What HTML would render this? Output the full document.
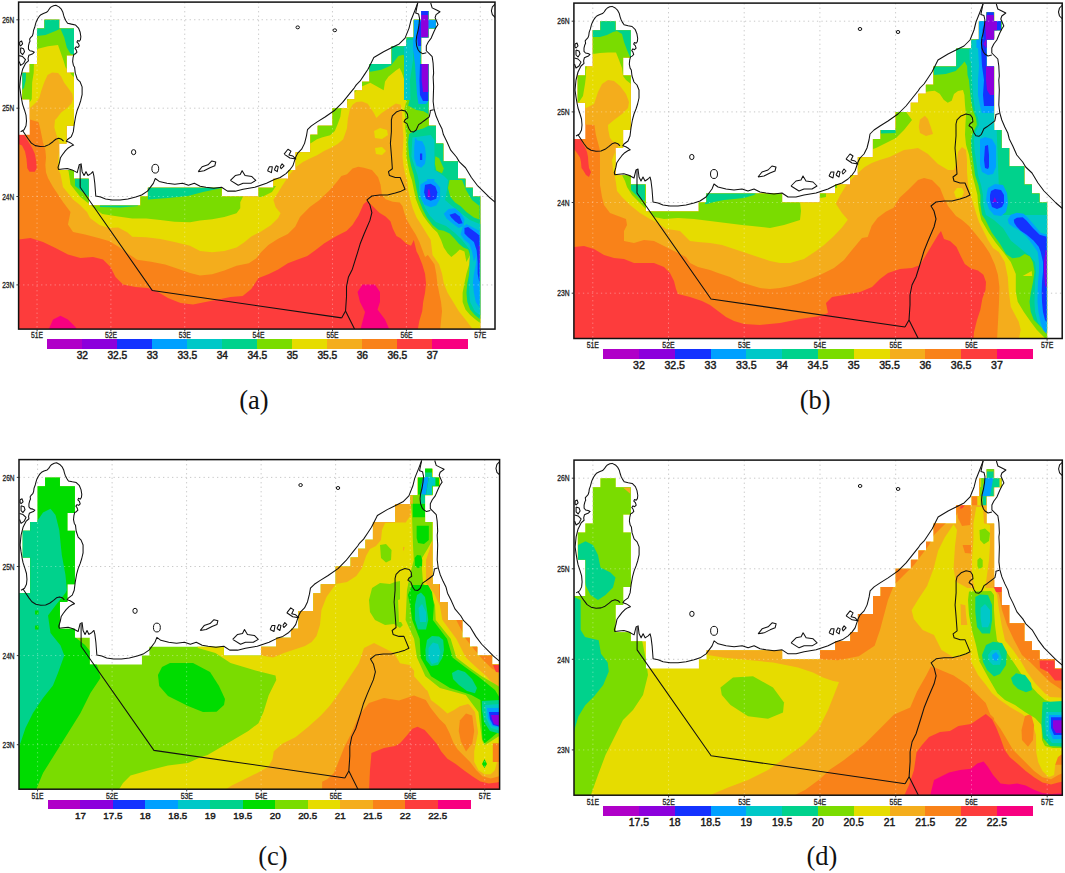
<!DOCTYPE html><html><head><meta charset="utf-8"><style>html,body{margin:0;padding:0;background:#fff;}body{width:1065px;height:873px;overflow:hidden;}svg{display:block;}text{font-family:"Liberation Sans",sans-serif;}</style></head><body>
<svg width="1065" height="873" viewBox="0 0 1065 873">
<rect width="1065" height="873" fill="#fff"/>
<svg x="18.6" y="2.1" width="476.4" height="327.0" viewBox="0 0 488.3 335.4" preserveAspectRatio="none">
<defs><clipPath id="ma"><polygon points="473.2,344.5 -11.4,344.5 -11.4,136 11.4,136 11.4,99.7 3.8,99.7 3.8,72.5 11.4,72.5 11.4,63.5 18.9,63.5 18.9,27.2 26.5,27.2 26.5,18.1 41.6,18.1 41.6,27.2 56.8,27.2 56.8,54.4 49.2,54.4 49.2,72.5 56.8,72.5 56.8,126.9 49.2,126.9 49.2,145 41.6,145 41.6,172.2 56.8,172.2 56.8,181.3 71.9,181.3 71.9,208.5 124.9,208.5 124.9,199.4 132.5,199.4 132.5,190.4 208.2,190.4 208.2,199.4 246,199.4 246,190.4 261.2,190.4 261.2,181.3 276.3,181.3 276.3,172.2 283.9,172.2 283.9,154.1 299,154.1 299,136 306.6,136 306.6,126.9 321.7,126.9 321.7,108.8 336.9,108.8 336.9,99.7 344.5,99.7 344.5,90.6 352,90.6 352,81.6 359.6,81.6 359.6,63.5 382.3,63.5 382.3,45.3 397.5,45.3 397.5,36.3 405,36.3 405,18.1 412.6,18.1 412.6,9.1 420.2,9.1 420.2,18.1 427.7,18.1 427.7,27.2 420.2,27.2 420.2,36.3 412.6,36.3 412.6,63.5 420.2,63.5 420.2,126.9 427.7,126.9 427.7,145 435.3,145 435.3,163.2 450.4,163.2 450.4,181.3 458,181.3 458,190.4 465.6,190.4 465.6,199.4 473.2,199.4"/></clipPath></defs>
<path d="M18.9 0V335.4M94.6 0V335.4M170.3 0V335.4M246 0V335.4M321.7 0V335.4M397.5 0V335.4M473.2 0V335.4M0 290.1H488.3M0 199.4H488.3M0 108.8H488.3M0 18.1H488.3" stroke="#c8c8c8" stroke-width="1" stroke-dasharray="1.3 3.2" fill="none" vector-effect="non-scaling-stroke"/>
<g clip-path="url(#ma)"><rect x="-5" y="-5" width="498.3" height="345.4" fill="#f98219"/>
<polygon points="0,120.9 11.6,120.3 16.6,121.9 20.4,123 21.9,128.6 23.5,136.3 25,144 27.4,151.7 28.1,159.5 27.4,167.2 28.1,174.9 30.1,180.4 35.3,189.6 45.5,205 53.2,215.3 50.6,228.1 55.8,235.8 68.1,238.4 82.8,242.2 92.5,245 102.1,250.8 111.7,257.6 121.4,264.3 135.7,266.3 150.2,269.1 164.6,274 175.7,277.8 185.9,280.4 198.4,279.1 210.9,275.4 223.4,270.4 236,267.9 243.5,262.9 248.5,256.6 256,249.1 266,242.8 276,237.9 283.5,230.3 288.4,220.4 298.5,210.2 308.4,203 318.5,193.2 325.9,184.7 330.9,178.4 336.6,176.5 342.3,170.7 348.2,168.8 353.9,169.8 360.2,171.7 362.2,172.2 368.5,179.7 371,187.3 372.3,197.2 376.1,202.3 383.5,204.7 390.6,205.5 393.5,209.4 395.4,216.2 398.3,223.9 402.2,230.7 407,238.4 410.8,246.1 413.7,253.8 416.6,261.4 419.5,259.4 426.2,269 428.1,278.7 429.2,288.3 431,298 433,307.6 434,317.1 433,326.8 432,337.3 493.4,337.3 493.4,-2.2 0,-2.2" fill="#f4ad1c"/>
<polygon points="0,108.6 11.6,108.7 14.2,106.4 18.1,102.6 21.2,98 23.5,90.2 26.5,81.7 29.7,74.8 34.3,72.1 40.5,72.8 43.6,76.3 46.6,82.5 51.2,88.6 55,94.1 55.9,99.5 54.3,104.1 49.7,108.7 43.6,113.3 38.9,119.5 37.3,120.9 36.6,128.6 38.9,136.3 40.5,140.2 42.4,146.6 40.4,162 40.5,171.8 42.9,176.3 45.5,189.6 55.8,202.5 62.9,208.1 70.1,215.3 73.2,221.4 82.8,228.6 92.5,231.6 102.1,231.1 111.7,236.4 116.5,240.7 130.9,241.2 145.3,243.1 159.8,246.1 175.7,249.9 185.9,255.3 198.4,256.6 210.9,255.3 223.4,251.6 231,246.6 238.5,240.3 248.5,235.3 258.5,229 266,221.5 268.5,216.5 263.5,210.3 261.1,202.8 266,195.2 270,188.6 278.2,176.3 284.6,168.8 291.4,164 299.1,160.1 305.9,157.2 313.5,152.4 320.2,149.5 327,145.6 332.7,140.8 334.7,135.1 336.6,129.3 337.5,119.7 339.5,110.1 342.3,105.2 346.2,102.4 352,101.9 357.8,104.3 362.2,110.7 364.3,114.1 366.7,119 371.8,114.1 379.2,109 386.7,104 391.7,105.2 393,112.7 393.5,126.1 394.5,139 393.5,158.2 394.5,167.8 396.4,177.4 398.3,182.5 399.2,192.1 401.2,201.8 404,211.4 407.9,221 412.8,228.7 417.6,236.4 422.4,244.1 424.3,259.4 431,269 434,278.7 435.8,288.3 439.7,298 445.5,307.6 451.2,317.1 459,326.8 464.7,334.5 466.8,337.3 493.4,337.3 493.4,-2.2 0,-2.2" fill="#e6dc00"/>
<polygon points="364.3,132.2 370.4,129.1 377.6,131.2 378.6,136.3 372.5,140.4 365.3,139.4" fill="#e6dc00"/>
<polygon points="365.3,149.6 372.5,148.6 376.6,152.7 372.5,156.8 366.3,155.8" fill="#e6dc00"/>
<polygon points="0,-2.2 62.9,-2.2 62.9,77.8 57.1,77.3 54.5,74.8 50.6,69.6 48.2,67.1 45.8,59.4 40.4,44 30.1,45.3 19.9,47.9 15.8,54.3 15.8,59.4 15.5,72.5 13.9,82.5 13.5,99.4 11.6,102.5 0,102.5" fill="#7adc00"/>
<polygon points="44.5,167.1 51.2,173.2 53.2,187.1 63.4,199.9 76.3,210.2 85.7,217.3 102.1,220 116.5,222 130.9,222 145.3,223.4 159.8,225.3 175.7,225.8 185.9,224 198.4,222.8 210.9,220.3 223.4,216.5 227.2,211.5 227.2,205.2 229.7,200.2 231,195.2 233.5,192.7 235.1,182.5 44.5,162" fill="#7adc00"/>
<polygon points="245.4,188.6 263.8,188.6 259.7,194.8 249.5,199.9 245.4,199.9" fill="#7adc00"/>
<polygon points="288.4,144.7 299.5,144.7 305.8,140.8 311.6,138.5 319.3,136.5 324.1,132.2 327,125.4 329.8,117.7 330.9,109.1 337.6,100.4 344.2,92.7 351.7,86.5 360.5,82.7 369.2,87.7 374.2,90.3 375.6,81.4 379.2,76.4 386.7,70.2 390.5,67.7 393,72.7 395.5,80.2 396.8,88.9 398,99 395.4,110.1 396.4,119.7 396.4,129.3 397.4,139 397.4,148.6 397.4,158.2 399.2,167.8 401.2,177.4 403.1,182.5 405.1,192.1 407,201.8 410.8,211.4 414.7,219.1 419.5,225.9 424.3,231.6 429.2,236.4 433,244.1 435.8,251.8 439.7,257.6 443.5,261.4 448.3,257.6 452.2,253.8 457,255.7 459,266.6 462.8,259.4 461.9,269 459,278.7 457,288.3 455.1,298 455.1,307.6 458,315.3 462.8,321 468.6,325.9 472.4,328.7 493.4,337.3 493.4,-2.2 288.4,-2.2" fill="#7adc00"/>
<polygon points="0,-2.2 62.9,-2.2 62.9,54.3 57.1,54.3 53.2,53 49.4,46.6 46.8,36.3 42.9,27.4 37.8,29.6 27.6,33.7 18.7,34.8 0,34.8" fill="#00d28c"/>
<polygon points="3.5,71.7 7.6,71.7 7.4,79.9 5.5,88.1 3.5,90.2" fill="#00d28c"/>
<polygon points="57.8,180.4 72.2,180.4 72.2,199.9 62.9,192.7 57.8,188.6" fill="#00d28c"/>
<polygon points="132.6,188.6 208.5,188.6 208.3,190.7 189,194.8 173.6,198.9 153.1,200.9 132.6,202.5" fill="#00d28c"/>
<polygon points="83.4,206.1 122.4,206.1 122.4,209.1 103.9,210.7 83.4,210.2" fill="#00d28c"/>
<polygon points="288.4,-2.2 288.4,59.4 360.5,71.4 371.8,69.5 381.7,65.1 389.3,55.2 394.3,54 396.8,57.6 398,63.9 399.2,76.4 399.9,88.9 400.6,101.4 399.2,106.2 407.9,111 414.7,112 419.5,114.9 421.4,119.7 420.4,126.5 414.7,129.3 405.1,132.2 400.3,135.1 399.2,143.8 400.3,158.2 402.2,167.8 405.1,177.4 406,182.5 407.9,192.1 409.9,201.8 413.7,211.4 418.5,221 424.3,228.7 430.1,233.5 435.8,234.5 441.7,237.3 446.5,242.2 451.2,247.9 456,251.8 460.8,253.8 462.8,259.5 465.6,259.4 464.7,269 461.9,278.7 459.9,288.3 459,298 459.9,307.6 462.8,315.3 467.6,321 472.4,324.8 493.4,326.1 493.4,-2.2" fill="#00d28c"/>
<polygon points="398.3,100.4 399.2,106.2 407.9,111 414.7,112 419.5,114.9 421.4,119.7 420.4,126.5 414.7,129.3 405.1,132.2 400.3,135.1 397.1,134.3 397.1,100.4" fill="#7adc00"/>
<polygon points="427.2,158.2 431,160.1 435.8,170.7 434,175.5 428.1,172.6 426.7,165.9" fill="#7adc00"/>
<polygon points="441.7,182.5 454.5,182.5 458.6,192.7 464.7,203 472.4,209.1 472.4,222.9 466.7,221 459,215.2 453.1,209.4 447.4,205.5 442.6,199.8 440.1,190.7" fill="#7adc00"/>
<polygon points="397.1,38.9 404.3,38.9 404.3,59.4 401.2,79.9 401.7,100.4 395,100.4 395,38.9" fill="#00c8c8"/>
<polygon points="403.6,139 402.6,158.2 405.3,167.1 408.9,177.4 410.4,184.5 410.4,192.7 412.5,200.9 416.6,211.2 421.7,219.4 427.8,225.5 438.1,229.7 447.3,236.8 454.5,244 462.7,254.3 461.9,278.7 461.9,288.3 461.9,298 462.8,307.6 467.6,317.1 472.4,321 493.4,322 493.4,227.6 472.4,227.6 462.7,223.5 454.5,217.3 444.2,209.1 437.1,203 439.1,192.7 440.1,182.5 436,178.4 426.2,172.2 426.2,141.4 422.4,136.3" fill="#00c8c8"/>
<polygon points="405,18.2 412.5,18.2 412.5,9 420.1,9 420.1,18.2 427.7,18.2 427.7,27.2 420.1,27.2 420.1,45 412.5,45 411.4,63.5 420.1,63.5 420.1,101.4 417.6,104.5 409.9,104.5 408.4,95.3 407.3,79.9 406.3,63.5 404.3,49.1 404.3,36.2 405,27.2" fill="#00a0ff"/>
<polygon points="409.4,27.2 412.5,18.2 412.5,9 420.1,9 420.1,13.2 412.5,13.2 412.5,45 409.4,45 408.4,36.2" fill="#1432ff"/>
<polygon points="411.4,63.5 420.1,63.5 420.1,101.4 414.5,101.4 411.4,95.3 410.9,79.9" fill="#1432ff"/>
<polygon points="412.5,13.2 420.1,13.2 420.1,27.2 420.1,36.2 412.5,36.2" fill="#8c00dc"/>
<polygon points="413.1,63.5 420.1,63.5 420.1,92.2 414.5,92.2 413.1,79.9" fill="#8c00dc"/>
<polygon points="406.5,139 408.9,141.9 413.7,142.8 416.6,148.6 417.6,158.2 416.6,165.9 412.8,169.8 407.9,167.8 405.5,160.1 405.5,148.6" fill="#00a0ff"/>
<polygon points="411.4,155.3 413.7,155.3 413.7,162 411.4,162" fill="#1432ff"/>
<polygon points="418.6,181.4 426.2,181.4 426.2,184.5 418.6,184.5" fill="#00a0ff"/>
<polygon points="411.8,187.3 417.6,183.5 427.2,184.4 432,190.2 432,201.8 428.1,208.5 422.4,210.4 415.6,207.5 411.8,199.8" fill="#00a0ff"/>
<polygon points="416.6,187.3 422.4,186.4 427.2,189.2 429.2,195 428.1,201.8 422.4,203.7 417.6,201.8 415.6,195" fill="#1432ff"/>
<polygon points="419.6,192.1 421.3,192.1 422.2,199.8 419.1,199.8" fill="#8c00dc"/>
<polygon points="435.8,217.1 440.6,212.3 447.4,211.4 453.1,216.2 457,222.9 456,229.7 451.2,231.6 445.5,227.7 438.7,222" fill="#00a0ff"/>
<polygon points="441.7,218.1 447.4,216.2 452.2,220 455.1,226.8 451.2,227.7 447.4,224.8 443.5,221" fill="#1432ff"/>
<polygon points="455.1,230.7 459,227.7 466.7,231.6 472.4,234.5 472.4,313.3 468.6,307.6 466.7,298 465.6,288.3 466.7,278.7 468.6,269 469.5,259.4 466.7,266.6 464.7,255.7 461.9,247.9 457,244.1 453.1,238.4" fill="#00a0ff"/>
<polygon points="457,231.6 460.8,230.7 468.6,236.4 472.4,239.3 472.4,288.3 470.5,278.7 470.5,266.6 469.5,254.7 466.7,246.1 460.8,241.2 457,237.3" fill="#1432ff"/>
<polygon points="471.5,249.9 472.4,249.9 472.4,269 471.9,266.6" fill="#8c00dc"/>
<polygon points="0,243.5 12.2,242 25,246.1 37.8,252.2 50.6,258.9 63.4,262.5 76.3,261.4 86.5,264 94.2,271.7 99.3,282 107,289.7 119.8,292.2 132.6,293.2 142.9,297.3 153.1,303.5 165.9,308.6 178.8,310.2 191.6,307.6 204.4,305 217.2,302.5 229.7,301.4 238.5,294.2 246,282.9 256,279.1 266,274.2 276,267.9 286.1,264.1 296,260.3 304.8,254.1 313.4,247.4 325.9,239.8 336,234.8 342.2,228.5 348.5,218.6 353.5,207.3 357.3,204.1 363.6,209.8 369.8,216 376.1,219.8 381.1,224.8 383.5,232.3 387.3,239.9 391.5,242.2 397.4,247.9 402.2,249.9 405.1,244.1 407.9,255.7 409.9,259.4 413.7,269 416.6,278.7 417.6,288.3 416.6,298 414.7,307.6 413.7,317.1 410.8,326.8 408.9,337.3 0,337.3" fill="#fd3c3c"/>
<polygon points="0,136.3 5.8,136.3 10.5,144 14.2,150.2 16.6,155.6 18.1,163.3 18.6,170.3 16.6,174.1 11.2,174.1 8.9,170.3 8.1,161 6.6,153.3 3.5,147.1 0,145.5" fill="#fd3c3c"/>
<polygon points="30.1,337.3 35.3,325.6 42.9,321.8 50.6,325.6 58.3,333.2 60.9,337.3" fill="#f80080"/>
<polygon points="347.4,297.3 352.5,289.7 365.3,289.7 370.4,297.3 370.4,307.6 367.9,315.3 375.6,325.6 380.7,337.3 349.9,337.3 355.1,317.9 349.9,307.6" fill="#f80080"/>
<path d="M18.9 0V335.4M94.6 0V335.4M170.3 0V335.4M246 0V335.4M321.7 0V335.4M397.5 0V335.4M473.2 0V335.4M0 290.1H488.3M0 199.4H488.3M0 108.8H488.3M0 18.1H488.3" stroke="#fff" stroke-opacity="0.35" stroke-width="1" stroke-dasharray="1.3 3.2" fill="none" vector-effect="non-scaling-stroke"/>
</g>
<polyline points="2.1,132.9 5.6,130.9 7.6,126.9 8.1,121.9 7.6,115.9 6.1,110.9 4.1,104.9 3.1,99.9 2.1,93.9 1.1,86.9 2.1,76.9 4.1,68.9 7.1,62.9 10.1,60.2 9.7,57.8 10.5,54.6 12.1,53.9 14.6,52.9 16.1,51.4 14.1,50.4 11.6,49.9 10.1,48.2 10.1,45 10.9,41.8 11.7,40.2 11.3,37.8 12.5,36.2 14.1,34.6 14.9,32.2 15.3,29 16.5,25.8 17.3,22.6 18.1,20.1 19.7,16.9 21.3,14.5 22.9,12.9 25.4,11.7 28.6,10.5 30.2,8.9 31.8,6.5 33.4,4.9 35.8,3.7 38.2,3.3 41.4,4.9 43.8,7.3 45.4,10.5 46.2,13.7 47,16.1 48.6,19.3 50.2,21.7 54.2,22.6 58.2,23.4 61.4,26.6 63,30.6 63.8,35.4 63.4,38.6 62.2,40.2 60.6,39.4 59.8,41 61.4,42.6 62.2,45 60.6,46.6 59,45.8 57.8,47.4 59,49 59.8,51.4 58.2,53 56.6,53.8 55.8,57 55.4,61 56.2,65 57.4,66.9 58.1,72.9 60.1,78.9 63.1,81.9 65.1,86.9 65.1,94.9 63.7,100.9 62.1,105.9 60.1,110.9 58.5,116.9 57.1,124.9 56.1,132.9 54.1,137.9 50.1,140.9 48.9,142.7 51.9,143.7 54.4,145.2 56.4,146.7 53.9,147.7 50.9,149.6 47.9,152.6 44.9,156.6 42.9,159.6 41.9,164.6 40.4,169.6 40.9,171.6 44.9,171.1 49.9,170.6 54.9,172.1 60.1,174.9 62.1,166.9 64.1,165.9 65.1,173.9 67.1,177.9 69.1,173.9 71.1,177.9 74.1,175.9 76.1,173.9 77.1,177.9 78.1,185.9 79.1,198.9 84.1,199.9 89.1,201.9 96.1,202.9 104.1,202.9 112.1,201.9 120.1,199.9 126.1,197.9 132.1,193.9 138.1,185.9 140.1,180.9 144.1,183.9 152.1,185.9 160.1,186.9 168.1,185.9 174.1,187.9 180.1,185.9 186.1,188.9 192.1,189.9 200.1,190.9 208.1,189.9 214.1,193.9 222.1,193.9 230.1,191.9 236.1,190.9 242.1,189.9 248.1,187.9 254.1,185.9 262.1,181.9 268.1,179.9 274.1,175.9 278.1,171.9 281.1,167.9 283.1,161.9 284.1,158.9 286.1,154.9 290.1,150.9 293.1,144.9 295.1,136.9 296.1,130.9 300.1,126.9 306.1,122.9 314.1,117.9 324.1,110.9 332.1,102.9 340.1,92.9 344.1,87.9 346.1,84.9 350.1,80.9 354.1,74.9 358.1,68.9 362.1,60.9 364.1,56.9 374.1,50.9 382.1,46.9 390.1,42.9 396.1,36.9 400.1,26.9 402.1,18.9 406.1,8.9 409.1,0.9" fill="none" stroke="#111" stroke-width="1.05" stroke-linejoin="round" vector-effect="non-scaling-stroke"/>
<polyline points="422.4,0.9 423.9,5.9 427.9,7.9 431.9,9.9 427.9,12.9 426.9,15.9 429.9,22.9 427.9,25.9 425.9,29.9 422.9,36.9 419.9,40.9 417.9,44.9 417.9,49.9 420.9,52.9 423.9,55.9 424.9,62.9 425.4,72.9 424.9,76.9 425.4,86.9 424.9,101.9 425.9,109.9 427.9,116.9 430.9,123.9 433.9,129.9 435.4,135.9 438.9,142.9 442.9,151.9 448.8,158.9 451.8,163.9 458.1,169.9 464.1,179.9 470.1,187.9 476.1,193.9 482.1,199.9 489.1,205.9" fill="none" stroke="#111" stroke-width="1.05" stroke-linejoin="round" vector-effect="non-scaling-stroke"/>
<polyline points="409.1,0.9 407,11.3 410,12.3 411,16.9 410.5,22.9 409.5,28.9 408,34.9 407.5,39.9 408,44.9 409.5,48.9 411,50.9 414,52.9 417.9,51.9" fill="none" stroke="#111" stroke-width="1.05" stroke-linejoin="round" vector-effect="non-scaling-stroke"/>
<polyline points="4.1,131.7 6.1,134.7 10.1,140.7 13.1,144.7 17.1,147.2 22.1,148.2 27.1,147.9 31.1,146.2 35.1,143.2 38.1,140.7 41.1,139.7 44.1,140.7 46.1,142.7" fill="none" stroke="#111" stroke-width="1.05" stroke-linejoin="round" vector-effect="non-scaling-stroke"/>
<polyline points="425.4,110.3 421.9,111.3 421.9,112.8 420.9,117.7 417,120.7 413,123.7 410,125.7 407.5,131.2 405,133.2 402,132.7 400,129.7 398.1,124.7 395.1,122.7 396.1,120.7 399,118.7 398.5,114.7 396.5,111.8 392.1,110.8 387.1,112.8 383.1,116.7 382.1,120.9 382.1,132.9 381.1,144.9 382.1,156.9 383.1,170.9 379.1,173.9 380.1,177.9 386.1,179.9 391.1,179.9 396.1,191.9 392.1,193.9 386.1,195.9 378.1,197.9 370.1,197.9 362.1,198.9 357.1,202.9 360.1,207.9 362.1,215.9 360.1,223.9 354.1,237.9 350.1,247.9 347.1,257.9 342.1,273.9 338.1,281.9 336.1,291.9 336.1,301.9 335.1,316.9 331.1,323.9" fill="none" stroke="#111" stroke-width="1.05" stroke-linejoin="round" vector-effect="non-scaling-stroke"/>
<polyline points="331.1,323.9 137.1,295.9 63.1,189.9 63.1,166.9" fill="none" stroke="#111" stroke-width="1.05" stroke-linejoin="round" vector-effect="non-scaling-stroke"/>
<polyline points="335.1,316.9 345.1,336.9" fill="none" stroke="#111" stroke-width="1.05" stroke-linejoin="round" vector-effect="non-scaling-stroke"/>
<polyline points="184.1,173.9 188.1,168.9 194.1,166.9 198.1,162.9 202.1,163.9 201.1,167.9 196.1,169.9 190.1,172.9 184.1,173.9" fill="none" stroke="#111" stroke-width="1.05" stroke-linejoin="round" vector-effect="non-scaling-stroke"/>
<polyline points="217.1,182.9 222.1,177.9 227.1,176.9 229.1,172.9 232.1,177.9 239.1,178.9 243.1,182.9 238.1,185.9 230.1,185.9 225.1,187.9 217.1,182.9" fill="none" stroke="#111" stroke-width="1.05" stroke-linejoin="round" vector-effect="non-scaling-stroke"/>
<polyline points="255.1,172.9 257.1,168.9 260.1,168.9 259.1,174.9 255.1,172.9" fill="none" stroke="#111" stroke-width="1.05" stroke-linejoin="round" vector-effect="non-scaling-stroke"/>
<polyline points="262.1,171.9 264.1,167.9 266.1,168.9 265.1,173.9 262.1,171.9" fill="none" stroke="#111" stroke-width="1.05" stroke-linejoin="round" vector-effect="non-scaling-stroke"/>
<polyline points="268.1,168.9 270.1,165.9 272.1,167.9 269.1,170.9 268.1,168.9" fill="none" stroke="#111" stroke-width="1.05" stroke-linejoin="round" vector-effect="non-scaling-stroke"/>
<polyline points="272.1,155.9 276.1,150.9 279.1,152.9 277.1,156.9 281.1,157.9 284.1,160.9 278.1,159.9 272.1,155.9" fill="none" stroke="#111" stroke-width="1.05" stroke-linejoin="round" vector-effect="non-scaling-stroke"/>
<polyline points="1.1,40.9 3.1,39.9 4.1,42.9 2.1,44.9 1.1,43.9 1.1,40.9" fill="none" stroke="#111" stroke-width="1.05" stroke-linejoin="round" vector-effect="non-scaling-stroke"/>
<polyline points="2.1,46.9 5.1,47.9 6.1,50.9 4.1,53.9 2.1,51.9 2.1,46.9" fill="none" stroke="#111" stroke-width="1.05" stroke-linejoin="round" vector-effect="non-scaling-stroke"/>
<polyline points="0.6,54.9 4.1,55.9 7.1,58.9 5.1,62.9 2.1,64.9 0.6,60.9" fill="none" stroke="#111" stroke-width="1.05" stroke-linejoin="round" vector-effect="non-scaling-stroke"/>
<polyline points="488.6,1.9 485.6,4.9 484.6,8.9 485.6,12.9 488.6,15.9" fill="none" stroke="#111" stroke-width="1.05" stroke-linejoin="round" vector-effect="non-scaling-stroke"/>
<ellipse cx="117.9" cy="153.9" rx="2.2" ry="2.6" fill="none" stroke="#111" stroke-width="1" vector-effect="non-scaling-stroke"/>
<ellipse cx="286.1" cy="25.9" rx="1.8" ry="1.5" fill="none" stroke="#111" stroke-width="1" vector-effect="non-scaling-stroke"/>
<ellipse cx="324.1" cy="28.9" rx="1.8" ry="1.5" fill="none" stroke="#111" stroke-width="1" vector-effect="non-scaling-stroke"/>
<ellipse cx="140.1" cy="170.9" rx="3.5" ry="4.5" fill="none" stroke="#111" stroke-width="1" vector-effect="non-scaling-stroke"/>
</svg>
<rect x="18.6" y="2.1" width="476.4" height="327.0" fill="none" stroke="#111" stroke-width="1.5"/>
<line x1="37.1" y1="329.1" x2="37.1" y2="331.3" stroke="#222" stroke-width="0.9"/>
<text x="37.1" y="338.4" font-size="8.3" text-anchor="middle" fill="#222" stroke="#222" stroke-width="0.3" textLength="12" lengthAdjust="spacingAndGlyphs">51E</text>
<line x1="110.9" y1="329.1" x2="110.9" y2="331.3" stroke="#222" stroke-width="0.9"/>
<text x="110.9" y="338.4" font-size="8.3" text-anchor="middle" fill="#222" stroke="#222" stroke-width="0.3" textLength="12" lengthAdjust="spacingAndGlyphs">52E</text>
<line x1="184.8" y1="329.1" x2="184.8" y2="331.3" stroke="#222" stroke-width="0.9"/>
<text x="184.8" y="338.4" font-size="8.3" text-anchor="middle" fill="#222" stroke="#222" stroke-width="0.3" textLength="12" lengthAdjust="spacingAndGlyphs">53E</text>
<line x1="258.6" y1="329.1" x2="258.6" y2="331.3" stroke="#222" stroke-width="0.9"/>
<text x="258.6" y="338.4" font-size="8.3" text-anchor="middle" fill="#222" stroke="#222" stroke-width="0.3" textLength="12" lengthAdjust="spacingAndGlyphs">54E</text>
<line x1="332.5" y1="329.1" x2="332.5" y2="331.3" stroke="#222" stroke-width="0.9"/>
<text x="332.5" y="338.4" font-size="8.3" text-anchor="middle" fill="#222" stroke="#222" stroke-width="0.3" textLength="12" lengthAdjust="spacingAndGlyphs">55E</text>
<line x1="406.4" y1="329.1" x2="406.4" y2="331.3" stroke="#222" stroke-width="0.9"/>
<text x="406.4" y="338.4" font-size="8.3" text-anchor="middle" fill="#222" stroke="#222" stroke-width="0.3" textLength="12" lengthAdjust="spacingAndGlyphs">56E</text>
<line x1="480.2" y1="329.1" x2="480.2" y2="331.3" stroke="#222" stroke-width="0.9"/>
<text x="480.2" y="338.4" font-size="8.3" text-anchor="middle" fill="#222" stroke="#222" stroke-width="0.3" textLength="12" lengthAdjust="spacingAndGlyphs">57E</text>
<line x1="16.4" y1="284.9" x2="18.6" y2="284.9" stroke="#222" stroke-width="0.9"/>
<text x="14.2" y="288.1" font-size="8.6" text-anchor="end" fill="#222" stroke="#222" stroke-width="0.3" textLength="12" lengthAdjust="spacingAndGlyphs">23N</text>
<line x1="16.4" y1="196.5" x2="18.6" y2="196.5" stroke="#222" stroke-width="0.9"/>
<text x="14.2" y="199.7" font-size="8.6" text-anchor="end" fill="#222" stroke="#222" stroke-width="0.3" textLength="12" lengthAdjust="spacingAndGlyphs">24N</text>
<line x1="16.4" y1="108.2" x2="18.6" y2="108.2" stroke="#222" stroke-width="0.9"/>
<text x="14.2" y="111.4" font-size="8.6" text-anchor="end" fill="#222" stroke="#222" stroke-width="0.3" textLength="12" lengthAdjust="spacingAndGlyphs">25N</text>
<line x1="16.4" y1="19.8" x2="18.6" y2="19.8" stroke="#222" stroke-width="0.9"/>
<text x="14.2" y="23" font-size="8.6" text-anchor="end" fill="#222" stroke="#222" stroke-width="0.3" textLength="12" lengthAdjust="spacingAndGlyphs">26N</text>
<svg x="573.9" y="3.1" width="488.3" height="335.4" viewBox="0 0 488.3 335.4" preserveAspectRatio="none">
<defs><clipPath id="mb"><polygon points="473.2,344.5 -11.4,344.5 -11.4,136 11.4,136 11.4,99.7 3.8,99.7 3.8,72.5 11.4,72.5 11.4,63.5 18.9,63.5 18.9,27.2 26.5,27.2 26.5,18.1 41.6,18.1 41.6,27.2 56.8,27.2 56.8,54.4 49.2,54.4 49.2,72.5 56.8,72.5 56.8,126.9 49.2,126.9 49.2,145 41.6,145 41.6,172.2 56.8,172.2 56.8,181.3 71.9,181.3 71.9,208.5 124.9,208.5 124.9,199.4 132.5,199.4 132.5,190.4 208.2,190.4 208.2,199.4 246,199.4 246,190.4 261.2,190.4 261.2,181.3 276.3,181.3 276.3,172.2 283.9,172.2 283.9,154.1 299,154.1 299,136 306.6,136 306.6,126.9 321.7,126.9 321.7,108.8 336.9,108.8 336.9,99.7 344.5,99.7 344.5,90.6 352,90.6 352,81.6 359.6,81.6 359.6,63.5 382.3,63.5 382.3,45.3 397.5,45.3 397.5,36.3 405,36.3 405,18.1 412.6,18.1 412.6,9.1 420.2,9.1 420.2,18.1 427.7,18.1 427.7,27.2 420.2,27.2 420.2,36.3 412.6,36.3 412.6,63.5 420.2,63.5 420.2,126.9 427.7,126.9 427.7,145 435.3,145 435.3,163.2 450.4,163.2 450.4,181.3 458,181.3 458,190.4 465.6,190.4 465.6,199.4 473.2,199.4"/></clipPath></defs>
<path d="M18.9 0V335.4M94.6 0V335.4M170.3 0V335.4M246 0V335.4M321.7 0V335.4M397.5 0V335.4M473.2 0V335.4M0 290.1H488.3M0 199.4H488.3M0 108.8H488.3M0 18.1H488.3" stroke="#c8c8c8" stroke-width="1" stroke-dasharray="1.3 3.2" fill="none" vector-effect="non-scaling-stroke"/>
<g clip-path="url(#mb)"><rect x="-5" y="-5" width="498.3" height="345.4" fill="#f98219"/>
<polygon points="0.1,120.9 20.5,121.9 22,131.9 24,139.3 26,146.8 26.1,164.9 26.1,181.9 28.1,193.9 30.1,201.9 36.1,209.9 44.1,212.9 52.1,215.9 53.1,221.9 50.1,227.9 50.1,237.9 60.1,239.9 70.1,236.9 80.1,237.9 88.1,241.9 96.1,245.9 104.1,249.9 112.1,253.9 116.1,259.9 124.1,263.9 136.1,266.9 144.1,269.9 156.1,273.9 166.1,278.9 176.1,281.9 186.1,284.9 196.1,285.9 206.1,284.9 216.1,282.9 226.1,279.9 246.1,271.9 260.1,264.9 270.1,256.9 278.1,246.9 288.1,234.9 293.8,233.9 297.8,222.6 303.8,214.6 311.8,208.7 319.7,204.7 325.7,194.7 334.1,186.9 344.1,176.9 350.1,174.9 358.1,176.9 366.1,184.9 370.1,194.9 374.1,202.9 382.1,212.9 388.1,216.9 395.1,222.9 402.1,231.4 409.5,240.7 415.7,249.9 420.9,261.3 424,271.7 425.5,283.9 425.1,298.9 424.1,318.9 423.1,336.9 491.1,336.9 491.1,-3.1 0.1,-3.1" fill="#f4ad1c"/>
<polygon points="0.1,101.9 12.1,104.9 20.1,100.9 24.1,88.9 28.1,80.9 34.1,76.9 40.1,77.9 46.1,82.9 52.1,90.9 55.1,98.9 54.1,104.9 48.1,110.9 40.1,116.9 34.1,121.9 34.4,126.9 35.9,134.3 38.4,137.8 40.9,139.3 45.9,140.8 42.1,146.9 38.1,156.9 39.1,166.9 41.1,173.9 42.1,179.9 43.1,187.9 48.1,193.9 56.1,201.9 66.1,209.9 76.1,215.9 84.1,219.9 92.1,225.9 100.1,226.9 106.1,227.9 110.1,231.9 116.1,237.9 124.1,238.9 136.1,239.9 148.1,241.9 160.1,245.9 172.1,249.9 184.1,253.9 196.1,257.9 206.1,259.9 216.1,259.9 230.1,255.9 242.1,247.9 250.1,241.9 259,233.9 267.9,224.6 273.9,216.6 267.9,209.6 262,200.7 265.9,192.7 271.9,182.8 277.9,175.8 283.9,169.8 290.8,163.8 297.8,159.8 305.8,156.9 315.7,153.9 330.1,146.9 338.1,145.9 344.1,144.9 354.1,150.9 364.1,160.9 374.1,166.9 380.1,166.9 383.1,158.9 384.1,148.9 388.1,143.9 392.1,146.9 393.1,156.9 393.1,168.9 394.1,180.9 396.1,189.9 399.1,199.9 402.1,209.9 405.1,218.9 409.1,226.9 414.1,236.9 419.1,244.9 424.9,248.9 430.9,258.9 433.9,273.9 434.9,288.9 436.9,303.7 444.8,318.6 446.8,326.6 444.8,336.9 491.1,336.9 491.1,-3.1 0.1,-3.1" fill="#e6dc00"/>
<polygon points="380.1,188.9 383.1,184.9 388.1,184.9 390.1,188.9 388.1,193.9 382.1,194.9" fill="#e6dc00"/>
<polygon points="344.9,123.9 345.9,116.6 350.9,112.6 353.9,115.6 356.9,123.9 359.1,130.9 352.1,132.9 346.1,129.9" fill="#f4ad1c"/>
<polygon points="0.1,-3.1 71.1,-3.1 71.1,80.9 57.1,80.9 52.1,76.9 49.1,72.9 48.1,64.9 45.1,56.9 42.1,49.3 34.1,49.3 26.1,49.9 19.1,50.9 14.1,58.9 12.1,66.9 12.1,72.9 11.1,80.9 9.1,92.9 5.1,98.9 0.1,99.9" fill="#7adc00"/>
<polygon points="48.1,171.9 51.1,177.9 53.1,183.9 58.1,191.9 66.1,199.9 74.1,207.9 80.1,213.9 90.1,215.9 104.1,214.9 120.1,215.9 136.1,217.9 152.1,219.9 168.1,221.9 178.1,222.9 196.1,224.9 210.1,221.9 226.1,216.9 227.1,207.9 226.1,198.9 226.1,171.9" fill="#7adc00"/>
<polygon points="246.1,189.9 252.1,189.9 252.1,193.9 246.1,194.9" fill="#7adc00"/>
<polygon points="261,180.9 263.1,180.9 263.1,184.9 261,184.9" fill="#7adc00"/>
<polygon points="299.1,135.9 306.6,135.9 306.6,126.9 321.7,126.9 321.7,108.6 332.1,108.6 338.1,116.9 330.1,126.9 322.1,134.9 310.1,140.9 302.1,144.9 299.1,145.9" fill="#7adc00"/>
<polygon points="346.1,-3.1 346.1,88.7 352.4,88.7 355.9,88.2 360.8,87.7 365.8,90.7 369.8,96.7 373.8,99.6 377.8,97.7 380.1,90.9 384.1,87.9 389.1,86.9 390.5,91.9 391.1,101.9 392.1,111.9 391.5,121.7 391.1,131.7 392.1,141.6 395.1,151.6 397.1,163.9 398.5,171.9 401.1,181.9 403.5,191.9 404.1,199.9 405.1,206.9 407.4,216.9 414.7,229.3 421.9,239.6 430.1,249.9 436.9,258.9 441.9,270.8 441.9,288.7 443.8,298.7 449.8,308.7 456.8,318.6 462.8,326.6 470.7,334.6 472.1,336.9 491.1,336.9 491.1,-3.1" fill="#7adc00"/>
<polygon points="0.1,-3.1 71.1,-3.1 71.1,53.9 56.1,53.9 53.1,46.9 50.1,38.9 48.1,30.9 43.1,27.9 39.1,28.9 33.1,31.9 26.1,33.9 19.1,33.9 0.1,33.9" fill="#00d28c"/>
<polygon points="57.1,180.9 71.1,180.9 71.1,197.9 66.1,195.9 62.1,191.9 57.1,186.9" fill="#00d28c"/>
<polygon points="131.1,186.9 186.1,186.9 180.1,191.9 170.1,194.9 160.1,195.9 150.1,196.9 140.1,198.9 133.1,200.9 131.1,200.9" fill="#00d28c"/>
<polygon points="306.6,124.9 321.7,124.9 321.7,129.9 306.6,130.4" fill="#00d28c"/>
<polygon points="359.8,56.9 359.8,71.8 371.8,70.8 381.8,67.8 387.7,61.8 390.7,58.3 393.2,62.8 393.6,71.8 395,76.9 396,86.9 397,96.9 399,106.9 402,114.7 403,121.7 399,129.7 397,136.7 397.5,146.6 399,156.6 400.1,163.9 401.1,171.9 404.5,181.9 406.5,191.9 406.5,201.7 408.1,211.7 411.6,216.9 417.8,229.3 426,240.7 432.1,250.9 438.4,255.1 445.6,254.1 450.8,250.9 456,253.1 459.1,259.3 460.6,268.6 459.1,278.9 457,289.2 455.6,298.7 456.8,308.7 459.8,316.6 465.8,322.6 472.7,328.6 491.1,327.9 491.1,-3.1 359.8,-3.1" fill="#00d28c"/>
<polygon points="395.1,36.9 395.6,56.9 397.1,58.9 398.1,76.9 399.1,91.9 401.1,106.9 404.1,114.9 405.1,121.9 401.1,129.9 400.1,136.9 400.6,146.9 402.1,156.9 403.1,163.9 404.1,171.9 407.1,181.9 409.1,191.9 409.6,201.9 412.1,211.9 420.1,216.9 429.1,224.9 437.1,237.6 450.8,248.9 456.1,252.9 461.1,258.9 462.1,268.9 461.1,278.9 460.8,288.7 460.6,298.9 461.1,308.7 463.8,318.6 468.1,324.9 472.7,326.9 491.1,326.9 491.1,211.9 426.1,211.9 424.1,161.9 422.1,109.9 420.1,36.9" fill="#00c8c8"/>
<polygon points="402.5,35.9 405.1,17.9 411.1,17.9 423.1,17.9 427.1,17.9 427.1,26.9 420.1,35.9 420.1,44.9 420.1,62.9 420.1,109.9 408.1,109.9 406.1,102.9 404.1,91.9 404.1,76.9 405.1,62.9 404.1,44.9 402.5,44.9" fill="#00a0ff"/>
<polygon points="409.5,35.9 408.5,26.9 411.1,17.9 412.5,8.9 419.9,8.9 419.9,17.9 427.1,17.9 427.1,26.9 420.1,35.9 420.1,62.9 420.1,102.9 410.1,102.9 409.1,91.9 410.1,76.9 408.1,62.9 407.1,44.9 407.1,35.9" fill="#1432ff"/>
<polygon points="412.1,35.9 411.1,17.9 412.5,11.9 419.9,11.9 419.9,17.9 423.1,17.9 423.1,26.9 420.1,35.9 420.1,44.9 412.1,44.9 409.5,40.9" fill="#8c00dc"/>
<polygon points="412.1,62.9 420.1,62.9 420.1,91.9 416.1,91.9 413.1,86.9 412.1,76.9" fill="#8c00dc"/>
<polygon points="406.1,135.9 411.1,133.9 418.1,135.9 422.1,142.9 422.1,163.9 419.1,170.9 414.1,171.9 408.1,168.9 406.1,161.9 406.1,146.9" fill="#00a0ff"/>
<polygon points="411.1,142.9 414.1,141.9 415.1,151.9 415.1,163.9 414.1,165.9 411.1,164.9 410.1,156.9" fill="#1432ff"/>
<polygon points="414.1,184.9 421.1,180.9 429.1,181.9 433.1,189.9 434.1,199.9 432.1,208.9 427.1,212.9 420.1,211.9 415.1,205.9 412.1,196.9 413.1,188.9" fill="#00a0ff"/>
<polygon points="417.1,187.9 421.1,185.9 427.1,186.9 430.1,191.9 430.1,199.9 428.1,203.9 423.1,205.9 418.1,203.9 416.1,196.9 416.1,191.9" fill="#1432ff"/>
<polygon points="420.9,193.8 418.9,198.8 422.9,198.8" fill="#8c00dc"/>
<polygon points="433.9,216.7 436.9,211.7 442.9,209.7 449.8,210.7 454.8,215.7 460.8,222.7 466.8,229.6 472.7,231.6 472.7,330.9 469.1,326.9 466.6,318.9 464.6,308.9 463.6,298.9 463.8,288.9 464.1,278.9 465.1,268.9 465.1,258.9 463.8,248.9 458.8,241.6 452.8,233.6 445.8,227.6 438.9,223.7 434.9,220.7" fill="#00a0ff"/>
<polygon points="439.9,216.7 442.9,214.7 448.8,214.2 452.8,217.7 458.8,224.6 465.8,231.6 472.7,233.6 472.7,318.9 471.1,316.9 469.1,308.9 468.1,298.9 467.8,288.9 468.1,278.9 469.1,268.9 469.1,258.9 466.8,248.9 464.8,243.6 459.8,237.6 452.8,231.6 446.8,227.6 442.9,223.7 440.4,219.9" fill="#1432ff"/>
<polygon points="471.7,246.9 470.1,258.9 470.1,268.9 471.1,281.9 472.7,284.9 472.7,246.9" fill="#8c00dc"/>
<polygon points="448.8,272.8 457.8,267.8 458.3,272.8" fill="#e6dc00"/>
<polygon points="0.1,243.9 10.1,242.9 20.1,245.9 30.1,251.9 40.1,254.9 50.1,255.9 60.1,259.9 80.1,259.9 90.1,263.9 96.1,269.9 100.1,277.9 102.1,285.9 104.1,290.9 116.1,293.9 128.1,297.9 136.1,301.9 144.1,307.9 152.1,313.9 160.1,317.9 170.1,320.9 186.1,321.9 206.1,319.9 226.1,315.9 246.1,312.9 254.1,309.9 252.1,299.9 258.1,293.9 270.1,291.9 286.1,288.9 298.1,283.9 306.1,275.9 314.1,269.9 326.1,265.9 338.1,264.9 346.1,261.9 352.1,251.9 358.1,241.9 364.1,231.9 367.1,227.9 370.1,235.9 376.1,237.9 382.6,243.9 386.8,252.9 390.9,260.9 397.1,265.5 404.1,267.5 409.5,271.7 412.1,278.9 411.6,286.9 408.5,295.4 406.4,306.9 403.1,316.9 400.1,328.9 399.5,336.9 0.1,336.9" fill="#fd3c3c"/>
<polygon points="0.1,136.1 6.6,136.1 9.1,140.8 11.5,144.8 13.1,148.8 14.1,153.8 14.5,159.7 15.1,164.9 17.1,168.9 15.1,173.9 12.1,171.9 9.1,166.9 7.6,164.9 7.1,159.2 6.1,154.3 3.1,149.8 0.1,145.9" fill="#fd3c3c"/>
<path d="M18.9 0V335.4M94.6 0V335.4M170.3 0V335.4M246 0V335.4M321.7 0V335.4M397.5 0V335.4M473.2 0V335.4M0 290.1H488.3M0 199.4H488.3M0 108.8H488.3M0 18.1H488.3" stroke="#fff" stroke-opacity="0.35" stroke-width="1" stroke-dasharray="1.3 3.2" fill="none" vector-effect="non-scaling-stroke"/>
</g>
<polyline points="2.1,132.9 5.6,130.9 7.6,126.9 8.1,121.9 7.6,115.9 6.1,110.9 4.1,104.9 3.1,99.9 2.1,93.9 1.1,86.9 2.1,76.9 4.1,68.9 7.1,62.9 10.1,60.2 9.7,57.8 10.5,54.6 12.1,53.9 14.6,52.9 16.1,51.4 14.1,50.4 11.6,49.9 10.1,48.2 10.1,45 10.9,41.8 11.7,40.2 11.3,37.8 12.5,36.2 14.1,34.6 14.9,32.2 15.3,29 16.5,25.8 17.3,22.6 18.1,20.1 19.7,16.9 21.3,14.5 22.9,12.9 25.4,11.7 28.6,10.5 30.2,8.9 31.8,6.5 33.4,4.9 35.8,3.7 38.2,3.3 41.4,4.9 43.8,7.3 45.4,10.5 46.2,13.7 47,16.1 48.6,19.3 50.2,21.7 54.2,22.6 58.2,23.4 61.4,26.6 63,30.6 63.8,35.4 63.4,38.6 62.2,40.2 60.6,39.4 59.8,41 61.4,42.6 62.2,45 60.6,46.6 59,45.8 57.8,47.4 59,49 59.8,51.4 58.2,53 56.6,53.8 55.8,57 55.4,61 56.2,65 57.4,66.9 58.1,72.9 60.1,78.9 63.1,81.9 65.1,86.9 65.1,94.9 63.7,100.9 62.1,105.9 60.1,110.9 58.5,116.9 57.1,124.9 56.1,132.9 54.1,137.9 50.1,140.9 48.9,142.7 51.9,143.7 54.4,145.2 56.4,146.7 53.9,147.7 50.9,149.6 47.9,152.6 44.9,156.6 42.9,159.6 41.9,164.6 40.4,169.6 40.9,171.6 44.9,171.1 49.9,170.6 54.9,172.1 60.1,174.9 62.1,166.9 64.1,165.9 65.1,173.9 67.1,177.9 69.1,173.9 71.1,177.9 74.1,175.9 76.1,173.9 77.1,177.9 78.1,185.9 79.1,198.9 84.1,199.9 89.1,201.9 96.1,202.9 104.1,202.9 112.1,201.9 120.1,199.9 126.1,197.9 132.1,193.9 138.1,185.9 140.1,180.9 144.1,183.9 152.1,185.9 160.1,186.9 168.1,185.9 174.1,187.9 180.1,185.9 186.1,188.9 192.1,189.9 200.1,190.9 208.1,189.9 214.1,193.9 222.1,193.9 230.1,191.9 236.1,190.9 242.1,189.9 248.1,187.9 254.1,185.9 262.1,181.9 268.1,179.9 274.1,175.9 278.1,171.9 281.1,167.9 283.1,161.9 284.1,158.9 286.1,154.9 290.1,150.9 293.1,144.9 295.1,136.9 296.1,130.9 300.1,126.9 306.1,122.9 314.1,117.9 324.1,110.9 332.1,102.9 340.1,92.9 344.1,87.9 346.1,84.9 350.1,80.9 354.1,74.9 358.1,68.9 362.1,60.9 364.1,56.9 374.1,50.9 382.1,46.9 390.1,42.9 396.1,36.9 400.1,26.9 402.1,18.9 406.1,8.9 409.1,0.9" fill="none" stroke="#111" stroke-width="1.05" stroke-linejoin="round" vector-effect="non-scaling-stroke"/>
<polyline points="422.4,0.9 423.9,5.9 427.9,7.9 431.9,9.9 427.9,12.9 426.9,15.9 429.9,22.9 427.9,25.9 425.9,29.9 422.9,36.9 419.9,40.9 417.9,44.9 417.9,49.9 420.9,52.9 423.9,55.9 424.9,62.9 425.4,72.9 424.9,76.9 425.4,86.9 424.9,101.9 425.9,109.9 427.9,116.9 430.9,123.9 433.9,129.9 435.4,135.9 438.9,142.9 442.9,151.9 448.8,158.9 451.8,163.9 458.1,169.9 464.1,179.9 470.1,187.9 476.1,193.9 482.1,199.9 489.1,205.9" fill="none" stroke="#111" stroke-width="1.05" stroke-linejoin="round" vector-effect="non-scaling-stroke"/>
<polyline points="409.1,0.9 407,11.3 410,12.3 411,16.9 410.5,22.9 409.5,28.9 408,34.9 407.5,39.9 408,44.9 409.5,48.9 411,50.9 414,52.9 417.9,51.9" fill="none" stroke="#111" stroke-width="1.05" stroke-linejoin="round" vector-effect="non-scaling-stroke"/>
<polyline points="4.1,131.7 6.1,134.7 10.1,140.7 13.1,144.7 17.1,147.2 22.1,148.2 27.1,147.9 31.1,146.2 35.1,143.2 38.1,140.7 41.1,139.7 44.1,140.7 46.1,142.7" fill="none" stroke="#111" stroke-width="1.05" stroke-linejoin="round" vector-effect="non-scaling-stroke"/>
<polyline points="425.4,110.3 421.9,111.3 421.9,112.8 420.9,117.7 417,120.7 413,123.7 410,125.7 407.5,131.2 405,133.2 402,132.7 400,129.7 398.1,124.7 395.1,122.7 396.1,120.7 399,118.7 398.5,114.7 396.5,111.8 392.1,110.8 387.1,112.8 383.1,116.7 382.1,120.9 382.1,132.9 381.1,144.9 382.1,156.9 383.1,170.9 379.1,173.9 380.1,177.9 386.1,179.9 391.1,179.9 396.1,191.9 392.1,193.9 386.1,195.9 378.1,197.9 370.1,197.9 362.1,198.9 357.1,202.9 360.1,207.9 362.1,215.9 360.1,223.9 354.1,237.9 350.1,247.9 347.1,257.9 342.1,273.9 338.1,281.9 336.1,291.9 336.1,301.9 335.1,316.9 331.1,323.9" fill="none" stroke="#111" stroke-width="1.05" stroke-linejoin="round" vector-effect="non-scaling-stroke"/>
<polyline points="331.1,323.9 137.1,295.9 63.1,189.9 63.1,166.9" fill="none" stroke="#111" stroke-width="1.05" stroke-linejoin="round" vector-effect="non-scaling-stroke"/>
<polyline points="335.1,316.9 345.1,336.9" fill="none" stroke="#111" stroke-width="1.05" stroke-linejoin="round" vector-effect="non-scaling-stroke"/>
<polyline points="184.1,173.9 188.1,168.9 194.1,166.9 198.1,162.9 202.1,163.9 201.1,167.9 196.1,169.9 190.1,172.9 184.1,173.9" fill="none" stroke="#111" stroke-width="1.05" stroke-linejoin="round" vector-effect="non-scaling-stroke"/>
<polyline points="217.1,182.9 222.1,177.9 227.1,176.9 229.1,172.9 232.1,177.9 239.1,178.9 243.1,182.9 238.1,185.9 230.1,185.9 225.1,187.9 217.1,182.9" fill="none" stroke="#111" stroke-width="1.05" stroke-linejoin="round" vector-effect="non-scaling-stroke"/>
<polyline points="255.1,172.9 257.1,168.9 260.1,168.9 259.1,174.9 255.1,172.9" fill="none" stroke="#111" stroke-width="1.05" stroke-linejoin="round" vector-effect="non-scaling-stroke"/>
<polyline points="262.1,171.9 264.1,167.9 266.1,168.9 265.1,173.9 262.1,171.9" fill="none" stroke="#111" stroke-width="1.05" stroke-linejoin="round" vector-effect="non-scaling-stroke"/>
<polyline points="268.1,168.9 270.1,165.9 272.1,167.9 269.1,170.9 268.1,168.9" fill="none" stroke="#111" stroke-width="1.05" stroke-linejoin="round" vector-effect="non-scaling-stroke"/>
<polyline points="272.1,155.9 276.1,150.9 279.1,152.9 277.1,156.9 281.1,157.9 284.1,160.9 278.1,159.9 272.1,155.9" fill="none" stroke="#111" stroke-width="1.05" stroke-linejoin="round" vector-effect="non-scaling-stroke"/>
<polyline points="1.1,40.9 3.1,39.9 4.1,42.9 2.1,44.9 1.1,43.9 1.1,40.9" fill="none" stroke="#111" stroke-width="1.05" stroke-linejoin="round" vector-effect="non-scaling-stroke"/>
<polyline points="2.1,46.9 5.1,47.9 6.1,50.9 4.1,53.9 2.1,51.9 2.1,46.9" fill="none" stroke="#111" stroke-width="1.05" stroke-linejoin="round" vector-effect="non-scaling-stroke"/>
<polyline points="0.6,54.9 4.1,55.9 7.1,58.9 5.1,62.9 2.1,64.9 0.6,60.9" fill="none" stroke="#111" stroke-width="1.05" stroke-linejoin="round" vector-effect="non-scaling-stroke"/>
<polyline points="488.6,1.9 485.6,4.9 484.6,8.9 485.6,12.9 488.6,15.9" fill="none" stroke="#111" stroke-width="1.05" stroke-linejoin="round" vector-effect="non-scaling-stroke"/>
<ellipse cx="117.9" cy="153.9" rx="2.2" ry="2.6" fill="none" stroke="#111" stroke-width="1" vector-effect="non-scaling-stroke"/>
<ellipse cx="286.1" cy="25.9" rx="1.8" ry="1.5" fill="none" stroke="#111" stroke-width="1" vector-effect="non-scaling-stroke"/>
<ellipse cx="324.1" cy="28.9" rx="1.8" ry="1.5" fill="none" stroke="#111" stroke-width="1" vector-effect="non-scaling-stroke"/>
<ellipse cx="140.1" cy="170.9" rx="3.5" ry="4.5" fill="none" stroke="#111" stroke-width="1" vector-effect="non-scaling-stroke"/>
</svg>
<rect x="573.9" y="3.1" width="488.3" height="335.4" fill="none" stroke="#111" stroke-width="1.5"/>
<line x1="592.8" y1="338.5" x2="592.8" y2="340.7" stroke="#222" stroke-width="0.9"/>
<text x="592.8" y="347.8" font-size="8.3" text-anchor="middle" fill="#222" stroke="#222" stroke-width="0.3" textLength="12.3" lengthAdjust="spacingAndGlyphs">51E</text>
<line x1="668.5" y1="338.5" x2="668.5" y2="340.7" stroke="#222" stroke-width="0.9"/>
<text x="668.5" y="347.8" font-size="8.3" text-anchor="middle" fill="#222" stroke="#222" stroke-width="0.3" textLength="12.3" lengthAdjust="spacingAndGlyphs">52E</text>
<line x1="744.2" y1="338.5" x2="744.2" y2="340.7" stroke="#222" stroke-width="0.9"/>
<text x="744.2" y="347.8" font-size="8.3" text-anchor="middle" fill="#222" stroke="#222" stroke-width="0.3" textLength="12.3" lengthAdjust="spacingAndGlyphs">53E</text>
<line x1="819.9" y1="338.5" x2="819.9" y2="340.7" stroke="#222" stroke-width="0.9"/>
<text x="819.9" y="347.8" font-size="8.3" text-anchor="middle" fill="#222" stroke="#222" stroke-width="0.3" textLength="12.3" lengthAdjust="spacingAndGlyphs">54E</text>
<line x1="895.6" y1="338.5" x2="895.6" y2="340.7" stroke="#222" stroke-width="0.9"/>
<text x="895.6" y="347.8" font-size="8.3" text-anchor="middle" fill="#222" stroke="#222" stroke-width="0.3" textLength="12.3" lengthAdjust="spacingAndGlyphs">55E</text>
<line x1="971.4" y1="338.5" x2="971.4" y2="340.7" stroke="#222" stroke-width="0.9"/>
<text x="971.4" y="347.8" font-size="8.3" text-anchor="middle" fill="#222" stroke="#222" stroke-width="0.3" textLength="12.3" lengthAdjust="spacingAndGlyphs">56E</text>
<line x1="1047.1" y1="338.5" x2="1047.1" y2="340.7" stroke="#222" stroke-width="0.9"/>
<text x="1047.1" y="347.8" font-size="8.3" text-anchor="middle" fill="#222" stroke="#222" stroke-width="0.3" textLength="12.3" lengthAdjust="spacingAndGlyphs">57E</text>
<line x1="571.7" y1="293.2" x2="573.9" y2="293.2" stroke="#222" stroke-width="0.9"/>
<text x="569.5" y="296.4" font-size="8.6" text-anchor="end" fill="#222" stroke="#222" stroke-width="0.3" textLength="12.3" lengthAdjust="spacingAndGlyphs">23N</text>
<line x1="571.7" y1="202.5" x2="573.9" y2="202.5" stroke="#222" stroke-width="0.9"/>
<text x="569.5" y="205.7" font-size="8.6" text-anchor="end" fill="#222" stroke="#222" stroke-width="0.3" textLength="12.3" lengthAdjust="spacingAndGlyphs">24N</text>
<line x1="571.7" y1="111.9" x2="573.9" y2="111.9" stroke="#222" stroke-width="0.9"/>
<text x="569.5" y="115.1" font-size="8.6" text-anchor="end" fill="#222" stroke="#222" stroke-width="0.3" textLength="12.3" lengthAdjust="spacingAndGlyphs">25N</text>
<line x1="571.7" y1="21.2" x2="573.9" y2="21.2" stroke="#222" stroke-width="0.9"/>
<text x="569.5" y="24.4" font-size="8.6" text-anchor="end" fill="#222" stroke="#222" stroke-width="0.3" textLength="12.3" lengthAdjust="spacingAndGlyphs">26N</text>
<svg x="19.0" y="459.6" width="480.6" height="329.6" viewBox="0 0 488.3 335.4" preserveAspectRatio="none">
<defs><clipPath id="mc"><polygon points="495.9,344.5 -11.4,344.5 -11.4,136 11.4,136 11.4,99.7 3.8,99.7 3.8,72.5 11.4,72.5 11.4,63.5 18.9,63.5 18.9,27.2 26.5,27.2 26.5,18.1 41.6,18.1 41.6,27.2 56.8,27.2 56.8,54.4 49.2,54.4 49.2,72.5 56.8,72.5 56.8,126.9 49.2,126.9 49.2,145 41.6,145 41.6,172.2 56.8,172.2 56.8,181.3 71.9,181.3 71.9,208.5 124.9,208.5 124.9,199.4 132.5,199.4 132.5,190.4 208.2,190.4 208.2,199.4 246,199.4 246,190.4 261.2,190.4 261.2,181.3 276.3,181.3 276.3,172.2 283.9,172.2 283.9,154.1 299,154.1 299,136 306.6,136 306.6,126.9 321.7,126.9 321.7,108.8 336.9,108.8 336.9,99.7 344.5,99.7 344.5,90.6 352,90.6 352,81.6 359.6,81.6 359.6,63.5 382.3,63.5 382.3,45.3 397.5,45.3 397.5,36.3 405,36.3 405,18.1 412.6,18.1 412.6,9.1 420.2,9.1 420.2,18.1 427.7,18.1 427.7,27.2 420.2,27.2 420.2,36.3 412.6,36.3 412.6,63.5 420.2,63.5 420.2,126.9 427.7,126.9 427.7,145 435.3,145 435.3,163.2 450.4,163.2 450.4,181.3 458,181.3 458,190.4 465.6,190.4 465.6,199.4 480.7,199.4 480.7,208.5 495.9,208.5"/></clipPath></defs>
<path d="M18.9 0V335.4M94.6 0V335.4M170.3 0V335.4M246 0V335.4M321.7 0V335.4M397.5 0V335.4M473.2 0V335.4M0 290.1H488.3M0 199.4H488.3M0 108.8H488.3M0 18.1H488.3" stroke="#c8c8c8" stroke-width="1" stroke-dasharray="1.3 3.2" fill="none" vector-effect="non-scaling-stroke"/>
<g clip-path="url(#mc)"><rect x="-5" y="-5" width="498.3" height="345.4" fill="#7adc00"/>
<polygon points="-1,342.3 16.8,342.3 16.8,337.2 24.4,318.9 37.1,298.6 49.8,278.2 62.5,257.9 72.6,237.5 82.8,222.2 80.3,212.1 75.2,198.8 67.1,188.7 57.4,181 62,171.4 62,-4.7 -1,-4.7" fill="#00dc00"/>
<polygon points="141.2,219.2 145.3,211 153.4,207 176.8,207 194.1,216.1 203.2,230.4 209.3,243.6 208.3,249.7 200.7,256.6 186.9,256.8 171.7,250.7 151.4,240.6 142.5,230.4" fill="#00dc00"/>
<polygon points="-1,61.5 19.3,61.5 24.4,53.8 32,50.1 37.1,56.4 40.9,71.6 43.5,97.1 47.2,117.4 48.6,132.7 47.2,135.7 37.1,148.5 29.5,158.6 32,176.5 42.2,189.2 46,199.3 39.6,217.2 34.5,229.9 24.4,242.6 14.2,257.9 6.6,273.1 1.5,288.4 -1,293.5" fill="#00d28c"/>
<polygon points="16.3,153.6 19.9,153.6 19.9,157.6 16.3,157.6" fill="#00dc00"/>
<polygon points="16.3,168.8 19.9,168.8 19.9,172.9 16.3,172.9" fill="#00dc00"/>
<polygon points="100.6,342.3 100.6,337.2 105.7,329.1 113.3,321.5 131.1,316.4 151.4,311.3 171.7,308.7 183.9,303.2 191.6,300.7 204.6,292.9 220.1,283.8 233,276.1 243.3,268.3 248.5,256.6 253.7,239.8 261.4,224.3 260.6,219.7 240.3,214.6 214.9,207 199.6,196.8 181.9,191.7 176.8,183.6 224.5,153 285.5,102.2 336.3,61.5 376.9,20.8 392.2,0.4 489.7,0.4 489.7,342.3" fill="#e6dc00"/>
<polygon points="239.8,183.6 246.4,199.3 258.1,201.4 269.2,196.8 284.5,191.7 290.6,189.7 297.4,185.7 302.3,179.5 305.8,168.3 307.3,153 312.4,139.8 317.5,132.7 322.1,126.6 333.3,124.6 342.7,118.4 348.5,110.3 352.6,98.1 356.6,91 362.7,87.9 367.8,81.8 368.8,71.6 371.9,64.5 382.8,64 398.1,64 398.3,46.2 396.2,38.6 396.2,30.9 366.8,30.9 239.8,163.2" fill="#f4ad1c"/>
<polygon points="209.7,342.3 209.7,335.6 216.2,331.7 229.1,325.2 242.1,318.8 253.7,312.3 257.6,304.6 258.9,296.7 267.9,289 280.8,282.6 293.7,272.2 306.7,260.5 316,250.1 325.1,237.5 335.3,222.2 345.4,207 350.5,191.7 360.7,186.6 370.8,191.7 381,196.8 387.1,207.2 396.7,209 401.4,214.8 406.2,220.5 411,228.1 413.8,232 418.5,244.6 426.9,250.9 435.3,258.3 441.6,255.1 447.9,250.9 456.2,248.8 463.6,253 466.8,265.6 466.8,276.1 464.6,286.6 462.5,297 462.5,307.6 466.8,316 473,320.1 479.3,320.1 483.4,316 485.6,307.6 489.7,300.6 489.7,342.3" fill="#f4ad1c"/>
<polygon points="420.2,81.8 413.5,100.9 413.5,125.8 419.6,140.8 424.7,153 430.1,163.2 436.7,177.6 444.3,190 453.9,201.5 463.4,211 473,220.5 482.5,228.1 488.2,232 489.7,232 489.7,81.8" fill="#f4ad1c"/>
<polygon points="420.2,126.6 426.8,126.6 426.8,138.8 427.7,144.9 434.9,144.9 434.9,163.2 444.3,163.2 453.9,182.4 461.5,191.9 471,203.3 480.6,212.9 488.2,216.7 489.7,216.7 489.7,122.5 420.2,122.5" fill="#f98219"/>
<polygon points="307.9,342.3 308,327.9 313.1,325.2 320,318.9 330.2,293.5 337.8,278.2 345.4,260.4 355.6,247.7 370.8,242.6 386.1,245.1 401.3,240.1 413.3,244.6 418.5,253 426.9,263.6 433.2,269.8 437.4,278.2 441.6,288.7 445.7,295 452,301.3 458.3,307.6 464.6,316 470.9,322.3 479.3,324.4 487.7,322.3 489.7,342.3" fill="#f98219"/>
<polygon points="447.9,265.6 454.2,258.3 460.5,260.4 462.5,276.1 460.5,288.7 454.2,297 448.9,286.6 446.8,276.1" fill="#f98219"/>
<polygon points="481.4,288.7 489.7,288.7 489.7,307.6 481.4,307.6" fill="#f98219"/>
<polygon points="355.6,342.3 355.6,337.2 356.6,315.9 358.1,298.6 370.8,293.5 382,291.4 387.1,288.7 393.4,281.4 399.7,274 404.9,271.9 412.2,275.1 418.5,282.4 424.8,289.7 429,297 435.3,304.5 443.7,309.7 452,316 460.5,322.3 468.8,327.5 477.2,329.6 485.6,328.6 489.7,327.5 489.7,342.3" fill="#fd3c3c"/>
<polygon points="481.6,209 489.7,209 489.7,216.7 484.6,216.1" fill="#fd3c3c"/>
<polygon points="355.6,142.9 358.7,130.7 366.8,125.6 376.9,126.6 382,124.6 392.2,122.5 399.3,127.6 397.3,142.9 393.2,165.3 387.1,171.4 381,167.3 371.9,168.3 361.7,163.2 356.6,155.1" fill="#7adc00"/>
<polygon points="366.8,86.9 372.9,85.9 378.5,92 378,102.2 372.9,104.7 367.8,100.1" fill="#7adc00"/>
<polygon points="385.1,142.9 391.2,140.8 394.2,153 392.2,165.3 386.1,165.3" fill="#e6dc00"/>
<polygon points="390.2,88.9 393.2,88.9 393.2,92.5 390.2,92.5" fill="#f4ad1c"/>
<polygon points="393.2,46.2 393.2,81.8 389.1,102.2 387.1,122.5 387.1,142.9 387.1,163.2 397.3,182.4 401.4,203.9 401.4,220.5 413.8,234.5 427.7,239.5 446,243.6 456.2,247.7 463.3,256.8 465.3,270.1 467.4,283.3 473.5,287.4 480.6,283.3 489.7,277.2 489.7,234.5 483.6,230.4 474.9,220.5 464.3,211 453.9,201.5 444.3,182.4 430.1,163.2 427.7,149 421.6,135.7 413.5,125.6 413.5,102.2 417.6,90 421.6,61.5 405.4,46.2" fill="#e6dc00"/>
<polygon points="397.3,35.7 398.3,46.2 399.3,57.4 399.8,71.6 400.3,86.9 401.1,102.2 397.3,117.4 394.2,132.7 392.8,163.2 401.4,182.4 404.3,201.5 412.9,220.5 427.7,232.4 453.9,239.6 466.8,256.8 468.4,270.1 470.4,285.3 473,290.4 478.5,287.4 489.7,280.2 489.7,232.4 483.6,228.3 470.1,220.5 458.2,212.1 444.3,201.5 438.6,182.4 423.4,163.2 422.7,148 417.6,134.7 410.5,125.6 409.5,112.3 409.5,100.1 415.6,90 420.2,81.8 420.2,63 412.5,63 412.5,35.7" fill="#7adc00"/>
<polygon points="399.3,127.6 395.2,137.8 397.3,148 399.5,163.2 407.1,182.4 408.1,201.5 418.6,220.5 437.9,232.4 459.6,239.6 468.8,244.6 469.8,265.6 470.9,284.5 473,288.7 478.2,284.5 484.5,279.2 489.7,276.1 489.7,244.6 483.6,234.5 466.3,220.5 453.1,211 440.5,201.5 434.9,182.4 420.5,163.2 421.6,148 419.6,134.7 415.6,127.6" fill="#00dc00"/>
<polygon points="404,67.3 416.4,67.3 416.4,81.8 411.5,85.9 405.4,84.9 404,79.8" fill="#00dc00"/>
<polygon points="402,100.1 404.4,97.1 408.4,97.6 409.7,102.2 409.5,108.3 405.4,110.5 402.3,108.3" fill="#00dc00"/>
<polygon points="400.1,44.9 412.5,44.9 412.5,58.7 400.1,58.7" fill="#00dc00"/>
<polygon points="402.3,148 404.4,137.8 408.4,135.3 412.5,139.8 414.5,153 415.8,163.2 413.5,172.8 405.4,172.8 402.3,163.2" fill="#00d28c"/>
<polygon points="405.9,151 409.5,146.9 413.5,155.1 413.5,165.3 407.4,165.3" fill="#00c8c8"/>
<polygon points="414.5,183.6 419.6,179.5 426.7,180 431,183.6 431.8,193.8 430.1,201.9 425.7,209 418.6,210 413.5,203.9 412.9,193.8" fill="#00d28c"/>
<polygon points="416.1,191.7 420.6,186.1 425.7,187.6 428.2,195.8 425.7,206 419.6,208 416.1,201.9" fill="#00c8c8"/>
<polygon points="439.9,217.2 446,213.9 453.1,216.1 460.3,223.3 465.3,232.4 463.3,237.7 455.2,235.5 447,229.4 441,223.3" fill="#00d28c"/>
<polygon points="470.4,245.6 489.7,244.6 489.7,279.2 478.5,276.2 472.5,267 470.4,254.8" fill="#00d28c"/>
<polygon points="473.5,249.7 489.7,248.7 489.7,276.2 479.6,273.1 474.5,262.9" fill="#00c8c8"/>
<polygon points="475.5,252.8 489.7,252.8 489.7,273.1 480.6,271.1 476.5,262.9" fill="#00a0ff"/>
<polygon points="477.5,256.8 489.7,256.8 489.7,272.1 481.6,270.1 478.5,264" fill="#1432ff"/>
<polygon points="479.6,259.9 489.7,259.9 489.7,271.1 482.6,269.1 480.6,264" fill="#8c00dc"/>
<polygon points="470.4,309.8 473,304.7 475.5,309.8 473,313.8" fill="#00dc00"/>
<polygon points="381.8,45.2 398.1,45.2 398.1,56.4 393.2,63.5 385.1,63.5 381.8,56.4" fill="#f4ad1c"/>
<polygon points="412.5,8.5 419.7,8.5 419.7,17.6 412.5,17.6" fill="#00d28c"/>
<polygon points="412.5,8.5 419.7,8.5 419.7,13.1 412.5,13.1" fill="#00dc00"/>
<polygon points="405.4,17.6 426.8,17.6 426.8,35.7 405.4,35.7" fill="#00dc00"/>
<polygon points="410.7,17.6 416.4,17.6 413.5,35.7 408.7,35.7 408.7,26.7" fill="#00a0ff"/>
<polygon points="416.4,17.6 423.1,17.6 423.1,26.7 419.7,26.7 419.7,35.7 413.5,35.7" fill="#00c8c8"/>
<polygon points="397.3,35.7 400.1,35.7 400.1,44.9 397.3,44.9" fill="#f4ad1c"/>
<polygon points="407.8,35.7 412.5,35.7 412.5,44.9 407.8,44.9" fill="#00d28c"/>
<path d="M18.9 0V335.4M94.6 0V335.4M170.3 0V335.4M246 0V335.4M321.7 0V335.4M397.5 0V335.4M473.2 0V335.4M0 290.1H488.3M0 199.4H488.3M0 108.8H488.3M0 18.1H488.3" stroke="#fff" stroke-opacity="0.35" stroke-width="1" stroke-dasharray="1.3 3.2" fill="none" vector-effect="non-scaling-stroke"/>
</g>
<polyline points="2.1,132.9 5.6,130.9 7.6,126.9 8.1,121.9 7.6,115.9 6.1,110.9 4.1,104.9 3.1,99.9 2.1,93.9 1.1,86.9 2.1,76.9 4.1,68.9 7.1,62.9 10.1,60.2 9.7,57.8 10.5,54.6 12.1,53.9 14.6,52.9 16.1,51.4 14.1,50.4 11.6,49.9 10.1,48.2 10.1,45 10.9,41.8 11.7,40.2 11.3,37.8 12.5,36.2 14.1,34.6 14.9,32.2 15.3,29 16.5,25.8 17.3,22.6 18.1,20.1 19.7,16.9 21.3,14.5 22.9,12.9 25.4,11.7 28.6,10.5 30.2,8.9 31.8,6.5 33.4,4.9 35.8,3.7 38.2,3.3 41.4,4.9 43.8,7.3 45.4,10.5 46.2,13.7 47,16.1 48.6,19.3 50.2,21.7 54.2,22.6 58.2,23.4 61.4,26.6 63,30.6 63.8,35.4 63.4,38.6 62.2,40.2 60.6,39.4 59.8,41 61.4,42.6 62.2,45 60.6,46.6 59,45.8 57.8,47.4 59,49 59.8,51.4 58.2,53 56.6,53.8 55.8,57 55.4,61 56.2,65 57.4,66.9 58.1,72.9 60.1,78.9 63.1,81.9 65.1,86.9 65.1,94.9 63.7,100.9 62.1,105.9 60.1,110.9 58.5,116.9 57.1,124.9 56.1,132.9 54.1,137.9 50.1,140.9 48.9,142.7 51.9,143.7 54.4,145.2 56.4,146.7 53.9,147.7 50.9,149.6 47.9,152.6 44.9,156.6 42.9,159.6 41.9,164.6 40.4,169.6 40.9,171.6 44.9,171.1 49.9,170.6 54.9,172.1 60.1,174.9 62.1,166.9 64.1,165.9 65.1,173.9 67.1,177.9 69.1,173.9 71.1,177.9 74.1,175.9 76.1,173.9 77.1,177.9 78.1,185.9 79.1,198.9 84.1,199.9 89.1,201.9 96.1,202.9 104.1,202.9 112.1,201.9 120.1,199.9 126.1,197.9 132.1,193.9 138.1,185.9 140.1,180.9 144.1,183.9 152.1,185.9 160.1,186.9 168.1,185.9 174.1,187.9 180.1,185.9 186.1,188.9 192.1,189.9 200.1,190.9 208.1,189.9 214.1,193.9 222.1,193.9 230.1,191.9 236.1,190.9 242.1,189.9 248.1,187.9 254.1,185.9 262.1,181.9 268.1,179.9 274.1,175.9 278.1,171.9 281.1,167.9 283.1,161.9 284.1,158.9 286.1,154.9 290.1,150.9 293.1,144.9 295.1,136.9 296.1,130.9 300.1,126.9 306.1,122.9 314.1,117.9 324.1,110.9 332.1,102.9 340.1,92.9 344.1,87.9 346.1,84.9 350.1,80.9 354.1,74.9 358.1,68.9 362.1,60.9 364.1,56.9 374.1,50.9 382.1,46.9 390.1,42.9 396.1,36.9 400.1,26.9 402.1,18.9 406.1,8.9 409.1,0.9" fill="none" stroke="#111" stroke-width="1.05" stroke-linejoin="round" vector-effect="non-scaling-stroke"/>
<polyline points="422.4,0.9 423.9,5.9 427.9,7.9 431.9,9.9 427.9,12.9 426.9,15.9 429.9,22.9 427.9,25.9 425.9,29.9 422.9,36.9 419.9,40.9 417.9,44.9 417.9,49.9 420.9,52.9 423.9,55.9 424.9,62.9 425.4,72.9 424.9,76.9 425.4,86.9 424.9,101.9 425.9,109.9 427.9,116.9 430.9,123.9 433.9,129.9 435.4,135.9 438.9,142.9 442.9,151.9 448.8,158.9 451.8,163.9 458.1,169.9 464.1,179.9 470.1,187.9 476.1,193.9 482.1,199.9 489.1,205.9" fill="none" stroke="#111" stroke-width="1.05" stroke-linejoin="round" vector-effect="non-scaling-stroke"/>
<polyline points="409.1,0.9 407,11.3 410,12.3 411,16.9 410.5,22.9 409.5,28.9 408,34.9 407.5,39.9 408,44.9 409.5,48.9 411,50.9 414,52.9 417.9,51.9" fill="none" stroke="#111" stroke-width="1.05" stroke-linejoin="round" vector-effect="non-scaling-stroke"/>
<polyline points="4.1,131.7 6.1,134.7 10.1,140.7 13.1,144.7 17.1,147.2 22.1,148.2 27.1,147.9 31.1,146.2 35.1,143.2 38.1,140.7 41.1,139.7 44.1,140.7 46.1,142.7" fill="none" stroke="#111" stroke-width="1.05" stroke-linejoin="round" vector-effect="non-scaling-stroke"/>
<polyline points="425.4,110.3 421.9,111.3 421.9,112.8 420.9,117.7 417,120.7 413,123.7 410,125.7 407.5,131.2 405,133.2 402,132.7 400,129.7 398.1,124.7 395.1,122.7 396.1,120.7 399,118.7 398.5,114.7 396.5,111.8 392.1,110.8 387.1,112.8 383.1,116.7 382.1,120.9 382.1,132.9 381.1,144.9 382.1,156.9 383.1,170.9 379.1,173.9 380.1,177.9 386.1,179.9 391.1,179.9 396.1,191.9 392.1,193.9 386.1,195.9 378.1,197.9 370.1,197.9 362.1,198.9 357.1,202.9 360.1,207.9 362.1,215.9 360.1,223.9 354.1,237.9 350.1,247.9 347.1,257.9 342.1,273.9 338.1,281.9 336.1,291.9 336.1,301.9 335.1,316.9 331.1,323.9" fill="none" stroke="#111" stroke-width="1.05" stroke-linejoin="round" vector-effect="non-scaling-stroke"/>
<polyline points="331.1,323.9 137.1,295.9 63.1,189.9 63.1,166.9" fill="none" stroke="#111" stroke-width="1.05" stroke-linejoin="round" vector-effect="non-scaling-stroke"/>
<polyline points="335.1,316.9 345.1,336.9" fill="none" stroke="#111" stroke-width="1.05" stroke-linejoin="round" vector-effect="non-scaling-stroke"/>
<polyline points="184.1,173.9 188.1,168.9 194.1,166.9 198.1,162.9 202.1,163.9 201.1,167.9 196.1,169.9 190.1,172.9 184.1,173.9" fill="none" stroke="#111" stroke-width="1.05" stroke-linejoin="round" vector-effect="non-scaling-stroke"/>
<polyline points="217.1,182.9 222.1,177.9 227.1,176.9 229.1,172.9 232.1,177.9 239.1,178.9 243.1,182.9 238.1,185.9 230.1,185.9 225.1,187.9 217.1,182.9" fill="none" stroke="#111" stroke-width="1.05" stroke-linejoin="round" vector-effect="non-scaling-stroke"/>
<polyline points="255.1,172.9 257.1,168.9 260.1,168.9 259.1,174.9 255.1,172.9" fill="none" stroke="#111" stroke-width="1.05" stroke-linejoin="round" vector-effect="non-scaling-stroke"/>
<polyline points="262.1,171.9 264.1,167.9 266.1,168.9 265.1,173.9 262.1,171.9" fill="none" stroke="#111" stroke-width="1.05" stroke-linejoin="round" vector-effect="non-scaling-stroke"/>
<polyline points="268.1,168.9 270.1,165.9 272.1,167.9 269.1,170.9 268.1,168.9" fill="none" stroke="#111" stroke-width="1.05" stroke-linejoin="round" vector-effect="non-scaling-stroke"/>
<polyline points="272.1,155.9 276.1,150.9 279.1,152.9 277.1,156.9 281.1,157.9 284.1,160.9 278.1,159.9 272.1,155.9" fill="none" stroke="#111" stroke-width="1.05" stroke-linejoin="round" vector-effect="non-scaling-stroke"/>
<polyline points="1.1,40.9 3.1,39.9 4.1,42.9 2.1,44.9 1.1,43.9 1.1,40.9" fill="none" stroke="#111" stroke-width="1.05" stroke-linejoin="round" vector-effect="non-scaling-stroke"/>
<polyline points="2.1,46.9 5.1,47.9 6.1,50.9 4.1,53.9 2.1,51.9 2.1,46.9" fill="none" stroke="#111" stroke-width="1.05" stroke-linejoin="round" vector-effect="non-scaling-stroke"/>
<polyline points="0.6,54.9 4.1,55.9 7.1,58.9 5.1,62.9 2.1,64.9 0.6,60.9" fill="none" stroke="#111" stroke-width="1.05" stroke-linejoin="round" vector-effect="non-scaling-stroke"/>
<polyline points="488.6,1.9 485.6,4.9 484.6,8.9 485.6,12.9 488.6,15.9" fill="none" stroke="#111" stroke-width="1.05" stroke-linejoin="round" vector-effect="non-scaling-stroke"/>
<ellipse cx="117.9" cy="153.9" rx="2.2" ry="2.6" fill="none" stroke="#111" stroke-width="1" vector-effect="non-scaling-stroke"/>
<ellipse cx="286.1" cy="25.9" rx="1.8" ry="1.5" fill="none" stroke="#111" stroke-width="1" vector-effect="non-scaling-stroke"/>
<ellipse cx="324.1" cy="28.9" rx="1.8" ry="1.5" fill="none" stroke="#111" stroke-width="1" vector-effect="non-scaling-stroke"/>
<ellipse cx="140.1" cy="170.9" rx="3.5" ry="4.5" fill="none" stroke="#111" stroke-width="1" vector-effect="non-scaling-stroke"/>
</svg>
<rect x="19.0" y="459.6" width="480.6" height="329.6" fill="none" stroke="#111" stroke-width="1.5"/>
<line x1="37.6" y1="789.2" x2="37.6" y2="791.4" stroke="#222" stroke-width="0.9"/>
<text x="37.6" y="798.5" font-size="8.3" text-anchor="middle" fill="#222" stroke="#222" stroke-width="0.3" textLength="12.1" lengthAdjust="spacingAndGlyphs">51E</text>
<line x1="112.1" y1="789.2" x2="112.1" y2="791.4" stroke="#222" stroke-width="0.9"/>
<text x="112.1" y="798.5" font-size="8.3" text-anchor="middle" fill="#222" stroke="#222" stroke-width="0.3" textLength="12.1" lengthAdjust="spacingAndGlyphs">52E</text>
<line x1="186.7" y1="789.2" x2="186.7" y2="791.4" stroke="#222" stroke-width="0.9"/>
<text x="186.7" y="798.5" font-size="8.3" text-anchor="middle" fill="#222" stroke="#222" stroke-width="0.3" textLength="12.1" lengthAdjust="spacingAndGlyphs">53E</text>
<line x1="261.2" y1="789.2" x2="261.2" y2="791.4" stroke="#222" stroke-width="0.9"/>
<text x="261.2" y="798.5" font-size="8.3" text-anchor="middle" fill="#222" stroke="#222" stroke-width="0.3" textLength="12.1" lengthAdjust="spacingAndGlyphs">54E</text>
<line x1="335.7" y1="789.2" x2="335.7" y2="791.4" stroke="#222" stroke-width="0.9"/>
<text x="335.7" y="798.5" font-size="8.3" text-anchor="middle" fill="#222" stroke="#222" stroke-width="0.3" textLength="12.1" lengthAdjust="spacingAndGlyphs">55E</text>
<line x1="410.2" y1="789.2" x2="410.2" y2="791.4" stroke="#222" stroke-width="0.9"/>
<text x="410.2" y="798.5" font-size="8.3" text-anchor="middle" fill="#222" stroke="#222" stroke-width="0.3" textLength="12.1" lengthAdjust="spacingAndGlyphs">56E</text>
<line x1="484.7" y1="789.2" x2="484.7" y2="791.4" stroke="#222" stroke-width="0.9"/>
<text x="484.7" y="798.5" font-size="8.3" text-anchor="middle" fill="#222" stroke="#222" stroke-width="0.3" textLength="12.1" lengthAdjust="spacingAndGlyphs">57E</text>
<line x1="16.8" y1="744.7" x2="19" y2="744.7" stroke="#222" stroke-width="0.9"/>
<text x="14.6" y="747.9" font-size="8.6" text-anchor="end" fill="#222" stroke="#222" stroke-width="0.3" textLength="12.1" lengthAdjust="spacingAndGlyphs">23N</text>
<line x1="16.8" y1="655.6" x2="19" y2="655.6" stroke="#222" stroke-width="0.9"/>
<text x="14.6" y="658.8" font-size="8.6" text-anchor="end" fill="#222" stroke="#222" stroke-width="0.3" textLength="12.1" lengthAdjust="spacingAndGlyphs">24N</text>
<line x1="16.8" y1="566.5" x2="19" y2="566.5" stroke="#222" stroke-width="0.9"/>
<text x="14.6" y="569.7" font-size="8.6" text-anchor="end" fill="#222" stroke="#222" stroke-width="0.3" textLength="12.1" lengthAdjust="spacingAndGlyphs">25N</text>
<line x1="16.8" y1="477.4" x2="19" y2="477.4" stroke="#222" stroke-width="0.9"/>
<text x="14.6" y="480.6" font-size="8.6" text-anchor="end" fill="#222" stroke="#222" stroke-width="0.3" textLength="12.1" lengthAdjust="spacingAndGlyphs">26N</text>
<svg x="574.0" y="460.1" width="488.3" height="335.1" viewBox="0 0 488.3 335.4" preserveAspectRatio="none">
<defs><clipPath id="md"><polygon points="495.9,344.5 -11.4,344.5 -11.4,136 11.4,136 11.4,99.7 3.8,99.7 3.8,72.5 11.4,72.5 11.4,63.5 18.9,63.5 18.9,27.2 26.5,27.2 26.5,18.1 41.6,18.1 41.6,27.2 56.8,27.2 56.8,54.4 49.2,54.4 49.2,72.5 56.8,72.5 56.8,126.9 49.2,126.9 49.2,145 41.6,145 41.6,172.2 56.8,172.2 56.8,181.3 71.9,181.3 71.9,208.5 124.9,208.5 124.9,199.4 132.5,199.4 132.5,190.4 208.2,190.4 208.2,199.4 246,199.4 246,190.4 261.2,190.4 261.2,181.3 276.3,181.3 276.3,172.2 283.9,172.2 283.9,154.1 299,154.1 299,136 306.6,136 306.6,126.9 321.7,126.9 321.7,108.8 336.9,108.8 336.9,99.7 344.5,99.7 344.5,90.6 352,90.6 352,81.6 359.6,81.6 359.6,63.5 382.3,63.5 382.3,45.3 397.5,45.3 397.5,36.3 405,36.3 405,18.1 412.6,18.1 412.6,9.1 420.2,9.1 420.2,18.1 427.7,18.1 427.7,27.2 420.2,27.2 420.2,36.3 412.6,36.3 412.6,63.5 420.2,63.5 420.2,126.9 427.7,126.9 427.7,145 435.3,145 435.3,163.2 450.4,163.2 450.4,181.3 458,181.3 458,190.4 465.6,190.4 465.6,199.4 480.7,199.4 480.7,208.5 495.9,208.5"/></clipPath></defs>
<path d="M18.9 0V335.4M94.6 0V335.4M170.3 0V335.4M246 0V335.4M321.7 0V335.4M397.5 0V335.4M473.2 0V335.4M0 290.1H488.3M0 199.4H488.3M0 108.8H488.3M0 18.1H488.3" stroke="#c8c8c8" stroke-width="1" stroke-dasharray="1.3 3.2" fill="none" vector-effect="non-scaling-stroke"/>
<g clip-path="url(#md)"><rect x="-5" y="-5" width="498.3" height="345.4" fill="#e6dc00"/>
<polygon points="0,-5.1 66,-5.1 66,170.1 69,185.1 72,200.1 74,215.1 69,235.1 59,250.1 49,260.1 41.5,275.1 31.5,295.2 24,315.2 16.5,336.2 0,336.2" fill="#7adc00"/>
<polygon points="4,85 11.5,81.3 19,85 24,95 26.5,107.5 36.5,112.5 41.5,117.5 39,127.5 31.5,135 24,140 16.5,135 11.5,125 9,110 4,100" fill="#00d28c"/>
<polygon points="0,137 6.7,140 6.7,170.1 11,177.1 24.7,180.4 27,193.7 33.7,202.7 34.8,211.6 29.2,225.1 20.2,236.3 11.2,245.3 4.5,256.5 1.1,267.7 0,272.6" fill="#00d28c"/>
<polygon points="49,27.4 56.5,27.4 56.5,33.9" fill="#f4ad1c"/>
<polygon points="146.5,227.6 159,217.6 179,216.4 199,227.6 210,242.6 209,252.6 194,258.9 174,256.4 156.5,245.1 147.8,235.1" fill="#7adc00"/>
<polygon points="126,180.1 134,195.1 149,197.6 174,200.1 199,202.6 211.5,205.1 224,207.6 239,212.6 249,217.6 259,221.1 265,222.1 260,235.1 254,250.1 244,270.1 229,285.2 211.5,297.7 194,310.2 174,320.2 154,327.7 134,336.2 491,336.2 491,-5.1 256,-5.1 126,160" fill="#f4ad1c"/>
<polygon points="379.6,64.2 383,70 381,86 379.6,108.3 381.8,121.6 397,130 401,140 400,160 398,180.1 397.5,192.6 388,196.1 380,197.6 367.5,190.1 360,175.1 348.7,170.1 339.8,159 337.6,150.2 344.3,139.2 353.1,126 359.7,108.3 364.1,90.7 370.7,77.4" fill="#e6dc00"/>
<polygon points="386.5,144 394,146 394,165 387,165" fill="#f4ad1c"/>
<polygon points="402.3,46.9 409,46.9 410,63.2 416,65 416,85 415,100 413,115 411,130 401,130 398,115 398,100 399.4,80 399.4,63.2" fill="#e6dc00"/>
<polygon points="405.5,70 411,68.5 416,73 415,81 410,84.3 406,80" fill="#7adc00"/>
<polygon points="403.4,100 406,97.6 408.7,100 408.7,107 405,109.2 403.4,106" fill="#7adc00"/>
<polygon points="382.8,45.2 396,45.2 397,51.9 396,65 388,66 384,58" fill="#f98219"/>
<polygon points="388.6,85 397,85 397,93.4 391,93" fill="#f98219"/>
<polygon points="382.8,45.2 391,45.2 388,48.4 383,48.4" fill="#fd3c3c"/>
<polygon points="241,180.1 245,199.1 263.7,200.3 284.8,196.4 300.6,185.9 306,170.1 310,155 314,140 320,125 330,115 340,105 347.5,95 355,85 360,75 367.5,67.5 375,60 382.5,54.9 387.5,44.9 387.5,34.9 241,160" fill="#f98219"/>
<polygon points="419.7,127.2 425,135 428,150 433,165 440,180.1 448,195.1 456,202.1 466,212.1 476,222.1 488,230.1 491,230.1 491,120 419.7,120" fill="#f98219"/>
<polygon points="465.6,200.7 480.8,200.7 480.8,209.1 491,209.1 491,220.7 481,220.7 474,212.1 466,208.1" fill="#fd3c3c"/>
<polygon points="419.7,127.2 427.6,127.2 427.6,132 422,132" fill="#fd3c3c"/>
<polygon points="219,336.2 231,330.2 246,319.2 256,309.7 269.7,300.5 290.4,284.5 306.4,268.4 320.1,254.6 336.2,247.7 343,231.7 352.2,215.7 356.8,206.5 363.6,208.8 379.7,215.7 393.4,224.8 402.6,234 411.7,243.2 416.3,254.6 420,258.1 420.2,260.5 426.5,268.9 432.8,279.4 439.1,290.1 445.4,296.4 451.7,302.7 460.1,311.1 468.5,317.4 477,319.5 484.3,315.3 491,312.2 491,336.2" fill="#f98219"/>
<polygon points="480,289 491,289 491,304.8 480,304.8" fill="#f98219"/>
<polygon points="392,128 391,140 392,155 394,170.1 396,185.1 397,201.7 404,215.1 412,225.1 418,233.3 426,240.1 436,247.1 448,254.1 458,262.1 462,275.1 462.2,292.2 464.3,302.7 468.5,311.1 474.8,317.4 480.1,315.3 481.2,304.8 484,297.2 491,292.2 491,238.1 476,237.1 470.8,233.3 461,223.1 453,212.1 447,201.7 439,190.1 431,180.6 427.6,165 425,150 423,135 420,128" fill="#e6dc00"/>
<polygon points="447.5,270.1 451,256.1 457,254.1 460.1,265.1 459,280.2 454,286.9 448,280.2" fill="#f98219"/>
<polygon points="395,131.4 394,140 395,155 398,170.1 402,185.1 405.5,201.7 414,217.1 423.4,233.3 431,240.1 441,245.1 451,252.1 461,258.1 467.5,265.1 468,280.2 471,286.2 479,288.2 491,288.2 491,242.1 481.4,243.9 471,240.1 463.5,233.3 456,225.1 448,215.1 439,201.7 431,190.1 423,180.6 421,165 420,150 420,135 417,131" fill="#7adc00"/>
<polygon points="401.3,137 406,134.5 414,135 418.1,145 418.1,160 416,173.6 408,173.6 403,167 401.3,152" fill="#00d28c"/>
<polygon points="406.6,148 411,144 416,150 416,162 414,167.2 408,167.2 406.6,158" fill="#00c8c8"/>
<polygon points="408,195.1 412,185.1 419,181.7 428,183.1 432.9,192.1 432,205.1 426,214.1 420,216.5 413,210.1 409,202.1" fill="#00d28c"/>
<polygon points="414,195.1 418,190.1 425,190.1 427.5,197.1 426,204.9 419,205.1 415,201.1" fill="#00c8c8"/>
<polygon points="418,195.1 422,192.1 425,196.1 423,201.1 419,200.1" fill="#00a0ff"/>
<polygon points="437,218.1 442,213.3 451,215.1 457,223.1 458.2,230.1 452,232.3 444,229.1 439,224.1" fill="#00d28c"/>
<polygon points="468.7,242.1 476,241.8 491,241.1 491,286.9 476,286.2 469,278.1 467.5,265.1 468,252.1" fill="#00d28c"/>
<polygon points="472,252.1 491,252.1 491,283.2 478,283.2 472,275.1 471,262.1" fill="#00c8c8"/>
<polygon points="475,255.1 491,255.1 491,279.1 479,279.1 475,270.1" fill="#00a0ff"/>
<polygon points="477,257.4 491,257.4 491,275.2 480,275.2 477,268.1" fill="#1432ff"/>
<polygon points="479,260.5 491,260.5 491,273.1 482,273.1 479,268.1" fill="#8c00dc"/>
<polygon points="330,336.2 335,325.2 340,310.2 342.5,292.7 348,285.2 355,277.1 366,272.1 376,271.1 384.4,266.1 397,264.1 405.4,258.4 411.8,254.2 418.1,259.5 422.3,267.9 426.5,278.4 430.7,290.1 435.9,297.4 443.3,303.7 451.7,311.1 460.1,317.4 468.5,322.7 477,324.8 484.3,322.7 491,321.2 491,336.2" fill="#fd3c3c"/>
<polygon points="356,336.2 360,320.2 375,312.7 386,310.2 397,309 403.3,303.7 409.6,301.6 413.9,306.9 419.1,315.3 426.5,323.7 434.9,324.8 443.3,323.7 451.7,325.8 460.1,330 468.5,333.2 477,334.2 491,333.2 491,336.2" fill="#f80080"/>
<polygon points="412.4,8.9 419.7,8.9 419.7,17.8 412.4,17.8" fill="#00d28c"/>
<polygon points="412.4,8.9 419.7,8.9 419.7,11.5 412.4,11.5" fill="#7adc00"/>
<polygon points="406,17.8 427.6,17.8 427.6,27.3 419.7,27.3 419.7,36.3 406,36.3" fill="#00d28c"/>
<polygon points="406,17.8 407.6,17.8 407.6,27.3 406,27.3" fill="#e6dc00"/>
<polygon points="407.6,17.8 410.8,17.8 408,36.3 406,36.3 406,27.3 407.6,27.3" fill="#7adc00"/>
<polygon points="410.8,17.8 419.2,17.8 416,36.3 407.6,36.3" fill="#00a0ff"/>
<polygon points="425.5,17.8 427.6,17.8 427.6,27.3 425.5,27.3" fill="#e6dc00"/>
<polygon points="397.6,36.3 403.4,36.3 403.4,45.2 397.6,45.2" fill="#f98219"/>
<polygon points="403.4,36.3 406.6,36.3 406.6,45.2 403.4,45.2" fill="#e6dc00"/>
<polygon points="406.6,36.3 408.7,36.3 408.7,45.2 406.6,45.2" fill="#7adc00"/>
<polygon points="408.7,36.3 412.4,36.3 412.4,45.2 408.7,45.2" fill="#00d28c"/>
<path d="M18.9 0V335.4M94.6 0V335.4M170.3 0V335.4M246 0V335.4M321.7 0V335.4M397.5 0V335.4M473.2 0V335.4M0 290.1H488.3M0 199.4H488.3M0 108.8H488.3M0 18.1H488.3" stroke="#fff" stroke-opacity="0.35" stroke-width="1" stroke-dasharray="1.3 3.2" fill="none" vector-effect="non-scaling-stroke"/>
</g>
<polyline points="2.1,132.9 5.6,130.9 7.6,126.9 8.1,121.9 7.6,115.9 6.1,110.9 4.1,104.9 3.1,99.9 2.1,93.9 1.1,86.9 2.1,76.9 4.1,68.9 7.1,62.9 10.1,60.2 9.7,57.8 10.5,54.6 12.1,53.9 14.6,52.9 16.1,51.4 14.1,50.4 11.6,49.9 10.1,48.2 10.1,45 10.9,41.8 11.7,40.2 11.3,37.8 12.5,36.2 14.1,34.6 14.9,32.2 15.3,29 16.5,25.8 17.3,22.6 18.1,20.1 19.7,16.9 21.3,14.5 22.9,12.9 25.4,11.7 28.6,10.5 30.2,8.9 31.8,6.5 33.4,4.9 35.8,3.7 38.2,3.3 41.4,4.9 43.8,7.3 45.4,10.5 46.2,13.7 47,16.1 48.6,19.3 50.2,21.7 54.2,22.6 58.2,23.4 61.4,26.6 63,30.6 63.8,35.4 63.4,38.6 62.2,40.2 60.6,39.4 59.8,41 61.4,42.6 62.2,45 60.6,46.6 59,45.8 57.8,47.4 59,49 59.8,51.4 58.2,53 56.6,53.8 55.8,57 55.4,61 56.2,65 57.4,66.9 58.1,72.9 60.1,78.9 63.1,81.9 65.1,86.9 65.1,94.9 63.7,100.9 62.1,105.9 60.1,110.9 58.5,116.9 57.1,124.9 56.1,132.9 54.1,137.9 50.1,140.9 48.9,142.7 51.9,143.7 54.4,145.2 56.4,146.7 53.9,147.7 50.9,149.6 47.9,152.6 44.9,156.6 42.9,159.6 41.9,164.6 40.4,169.6 40.9,171.6 44.9,171.1 49.9,170.6 54.9,172.1 60.1,174.9 62.1,166.9 64.1,165.9 65.1,173.9 67.1,177.9 69.1,173.9 71.1,177.9 74.1,175.9 76.1,173.9 77.1,177.9 78.1,185.9 79.1,198.9 84.1,199.9 89.1,201.9 96.1,202.9 104.1,202.9 112.1,201.9 120.1,199.9 126.1,197.9 132.1,193.9 138.1,185.9 140.1,180.9 144.1,183.9 152.1,185.9 160.1,186.9 168.1,185.9 174.1,187.9 180.1,185.9 186.1,188.9 192.1,189.9 200.1,190.9 208.1,189.9 214.1,193.9 222.1,193.9 230.1,191.9 236.1,190.9 242.1,189.9 248.1,187.9 254.1,185.9 262.1,181.9 268.1,179.9 274.1,175.9 278.1,171.9 281.1,167.9 283.1,161.9 284.1,158.9 286.1,154.9 290.1,150.9 293.1,144.9 295.1,136.9 296.1,130.9 300.1,126.9 306.1,122.9 314.1,117.9 324.1,110.9 332.1,102.9 340.1,92.9 344.1,87.9 346.1,84.9 350.1,80.9 354.1,74.9 358.1,68.9 362.1,60.9 364.1,56.9 374.1,50.9 382.1,46.9 390.1,42.9 396.1,36.9 400.1,26.9 402.1,18.9 406.1,8.9 409.1,0.9" fill="none" stroke="#111" stroke-width="1.05" stroke-linejoin="round" vector-effect="non-scaling-stroke"/>
<polyline points="422.4,0.9 423.9,5.9 427.9,7.9 431.9,9.9 427.9,12.9 426.9,15.9 429.9,22.9 427.9,25.9 425.9,29.9 422.9,36.9 419.9,40.9 417.9,44.9 417.9,49.9 420.9,52.9 423.9,55.9 424.9,62.9 425.4,72.9 424.9,76.9 425.4,86.9 424.9,101.9 425.9,109.9 427.9,116.9 430.9,123.9 433.9,129.9 435.4,135.9 438.9,142.9 442.9,151.9 448.8,158.9 451.8,163.9 458.1,169.9 464.1,179.9 470.1,187.9 476.1,193.9 482.1,199.9 489.1,205.9" fill="none" stroke="#111" stroke-width="1.05" stroke-linejoin="round" vector-effect="non-scaling-stroke"/>
<polyline points="409.1,0.9 407,11.3 410,12.3 411,16.9 410.5,22.9 409.5,28.9 408,34.9 407.5,39.9 408,44.9 409.5,48.9 411,50.9 414,52.9 417.9,51.9" fill="none" stroke="#111" stroke-width="1.05" stroke-linejoin="round" vector-effect="non-scaling-stroke"/>
<polyline points="4.1,131.7 6.1,134.7 10.1,140.7 13.1,144.7 17.1,147.2 22.1,148.2 27.1,147.9 31.1,146.2 35.1,143.2 38.1,140.7 41.1,139.7 44.1,140.7 46.1,142.7" fill="none" stroke="#111" stroke-width="1.05" stroke-linejoin="round" vector-effect="non-scaling-stroke"/>
<polyline points="425.4,110.3 421.9,111.3 421.9,112.8 420.9,117.7 417,120.7 413,123.7 410,125.7 407.5,131.2 405,133.2 402,132.7 400,129.7 398.1,124.7 395.1,122.7 396.1,120.7 399,118.7 398.5,114.7 396.5,111.8 392.1,110.8 387.1,112.8 383.1,116.7 382.1,120.9 382.1,132.9 381.1,144.9 382.1,156.9 383.1,170.9 379.1,173.9 380.1,177.9 386.1,179.9 391.1,179.9 396.1,191.9 392.1,193.9 386.1,195.9 378.1,197.9 370.1,197.9 362.1,198.9 357.1,202.9 360.1,207.9 362.1,215.9 360.1,223.9 354.1,237.9 350.1,247.9 347.1,257.9 342.1,273.9 338.1,281.9 336.1,291.9 336.1,301.9 335.1,316.9 331.1,323.9" fill="none" stroke="#111" stroke-width="1.05" stroke-linejoin="round" vector-effect="non-scaling-stroke"/>
<polyline points="331.1,323.9 137.1,295.9 63.1,189.9 63.1,166.9" fill="none" stroke="#111" stroke-width="1.05" stroke-linejoin="round" vector-effect="non-scaling-stroke"/>
<polyline points="335.1,316.9 345.1,336.9" fill="none" stroke="#111" stroke-width="1.05" stroke-linejoin="round" vector-effect="non-scaling-stroke"/>
<polyline points="184.1,173.9 188.1,168.9 194.1,166.9 198.1,162.9 202.1,163.9 201.1,167.9 196.1,169.9 190.1,172.9 184.1,173.9" fill="none" stroke="#111" stroke-width="1.05" stroke-linejoin="round" vector-effect="non-scaling-stroke"/>
<polyline points="217.1,182.9 222.1,177.9 227.1,176.9 229.1,172.9 232.1,177.9 239.1,178.9 243.1,182.9 238.1,185.9 230.1,185.9 225.1,187.9 217.1,182.9" fill="none" stroke="#111" stroke-width="1.05" stroke-linejoin="round" vector-effect="non-scaling-stroke"/>
<polyline points="255.1,172.9 257.1,168.9 260.1,168.9 259.1,174.9 255.1,172.9" fill="none" stroke="#111" stroke-width="1.05" stroke-linejoin="round" vector-effect="non-scaling-stroke"/>
<polyline points="262.1,171.9 264.1,167.9 266.1,168.9 265.1,173.9 262.1,171.9" fill="none" stroke="#111" stroke-width="1.05" stroke-linejoin="round" vector-effect="non-scaling-stroke"/>
<polyline points="268.1,168.9 270.1,165.9 272.1,167.9 269.1,170.9 268.1,168.9" fill="none" stroke="#111" stroke-width="1.05" stroke-linejoin="round" vector-effect="non-scaling-stroke"/>
<polyline points="272.1,155.9 276.1,150.9 279.1,152.9 277.1,156.9 281.1,157.9 284.1,160.9 278.1,159.9 272.1,155.9" fill="none" stroke="#111" stroke-width="1.05" stroke-linejoin="round" vector-effect="non-scaling-stroke"/>
<polyline points="1.1,40.9 3.1,39.9 4.1,42.9 2.1,44.9 1.1,43.9 1.1,40.9" fill="none" stroke="#111" stroke-width="1.05" stroke-linejoin="round" vector-effect="non-scaling-stroke"/>
<polyline points="2.1,46.9 5.1,47.9 6.1,50.9 4.1,53.9 2.1,51.9 2.1,46.9" fill="none" stroke="#111" stroke-width="1.05" stroke-linejoin="round" vector-effect="non-scaling-stroke"/>
<polyline points="0.6,54.9 4.1,55.9 7.1,58.9 5.1,62.9 2.1,64.9 0.6,60.9" fill="none" stroke="#111" stroke-width="1.05" stroke-linejoin="round" vector-effect="non-scaling-stroke"/>
<polyline points="488.6,1.9 485.6,4.9 484.6,8.9 485.6,12.9 488.6,15.9" fill="none" stroke="#111" stroke-width="1.05" stroke-linejoin="round" vector-effect="non-scaling-stroke"/>
<ellipse cx="117.9" cy="153.9" rx="2.2" ry="2.6" fill="none" stroke="#111" stroke-width="1" vector-effect="non-scaling-stroke"/>
<ellipse cx="286.1" cy="25.9" rx="1.8" ry="1.5" fill="none" stroke="#111" stroke-width="1" vector-effect="non-scaling-stroke"/>
<ellipse cx="324.1" cy="28.9" rx="1.8" ry="1.5" fill="none" stroke="#111" stroke-width="1" vector-effect="non-scaling-stroke"/>
<ellipse cx="140.1" cy="170.9" rx="3.5" ry="4.5" fill="none" stroke="#111" stroke-width="1" vector-effect="non-scaling-stroke"/>
</svg>
<rect x="574.0" y="460.1" width="488.3" height="335.1" fill="none" stroke="#111" stroke-width="1.5"/>
<line x1="592.9" y1="795.2" x2="592.9" y2="797.4" stroke="#222" stroke-width="0.9"/>
<text x="592.9" y="804.5" font-size="8.3" text-anchor="middle" fill="#222" stroke="#222" stroke-width="0.3" textLength="12.3" lengthAdjust="spacingAndGlyphs">51E</text>
<line x1="668.6" y1="795.2" x2="668.6" y2="797.4" stroke="#222" stroke-width="0.9"/>
<text x="668.6" y="804.5" font-size="8.3" text-anchor="middle" fill="#222" stroke="#222" stroke-width="0.3" textLength="12.3" lengthAdjust="spacingAndGlyphs">52E</text>
<line x1="744.3" y1="795.2" x2="744.3" y2="797.4" stroke="#222" stroke-width="0.9"/>
<text x="744.3" y="804.5" font-size="8.3" text-anchor="middle" fill="#222" stroke="#222" stroke-width="0.3" textLength="12.3" lengthAdjust="spacingAndGlyphs">53E</text>
<line x1="820" y1="795.2" x2="820" y2="797.4" stroke="#222" stroke-width="0.9"/>
<text x="820" y="804.5" font-size="8.3" text-anchor="middle" fill="#222" stroke="#222" stroke-width="0.3" textLength="12.3" lengthAdjust="spacingAndGlyphs">54E</text>
<line x1="895.7" y1="795.2" x2="895.7" y2="797.4" stroke="#222" stroke-width="0.9"/>
<text x="895.7" y="804.5" font-size="8.3" text-anchor="middle" fill="#222" stroke="#222" stroke-width="0.3" textLength="12.3" lengthAdjust="spacingAndGlyphs">55E</text>
<line x1="971.5" y1="795.2" x2="971.5" y2="797.4" stroke="#222" stroke-width="0.9"/>
<text x="971.5" y="804.5" font-size="8.3" text-anchor="middle" fill="#222" stroke="#222" stroke-width="0.3" textLength="12.3" lengthAdjust="spacingAndGlyphs">56E</text>
<line x1="1047.2" y1="795.2" x2="1047.2" y2="797.4" stroke="#222" stroke-width="0.9"/>
<text x="1047.2" y="804.5" font-size="8.3" text-anchor="middle" fill="#222" stroke="#222" stroke-width="0.3" textLength="12.3" lengthAdjust="spacingAndGlyphs">57E</text>
<line x1="571.8" y1="749.9" x2="574" y2="749.9" stroke="#222" stroke-width="0.9"/>
<text x="569.6" y="753.1" font-size="8.6" text-anchor="end" fill="#222" stroke="#222" stroke-width="0.3" textLength="12.3" lengthAdjust="spacingAndGlyphs">23N</text>
<line x1="571.8" y1="659.3" x2="574" y2="659.3" stroke="#222" stroke-width="0.9"/>
<text x="569.6" y="662.5" font-size="8.6" text-anchor="end" fill="#222" stroke="#222" stroke-width="0.3" textLength="12.3" lengthAdjust="spacingAndGlyphs">24N</text>
<line x1="571.8" y1="568.8" x2="574" y2="568.8" stroke="#222" stroke-width="0.9"/>
<text x="569.6" y="572" font-size="8.6" text-anchor="end" fill="#222" stroke="#222" stroke-width="0.3" textLength="12.3" lengthAdjust="spacingAndGlyphs">25N</text>
<line x1="571.8" y1="478.2" x2="574" y2="478.2" stroke="#222" stroke-width="0.9"/>
<text x="569.6" y="481.4" font-size="8.6" text-anchor="end" fill="#222" stroke="#222" stroke-width="0.3" textLength="12.3" lengthAdjust="spacingAndGlyphs">26N</text>
<rect x="47.3" y="339.1" width="35.6" height="9.4" fill="#b000c8" shape-rendering="crispEdges"/>
<rect x="82.3" y="339.1" width="35.6" height="9.4" fill="#8c00dc" shape-rendering="crispEdges"/>
<rect x="117.3" y="339.1" width="35.6" height="9.4" fill="#1432ff" shape-rendering="crispEdges"/>
<rect x="152.3" y="339.1" width="35.6" height="9.4" fill="#00a0ff" shape-rendering="crispEdges"/>
<rect x="187.3" y="339.1" width="35.6" height="9.4" fill="#00c8c8" shape-rendering="crispEdges"/>
<rect x="222.3" y="339.1" width="35.6" height="9.4" fill="#00d28c" shape-rendering="crispEdges"/>
<rect x="257.3" y="339.1" width="35.6" height="9.4" fill="#7adc00" shape-rendering="crispEdges"/>
<rect x="292.3" y="339.1" width="35.6" height="9.4" fill="#e6dc00" shape-rendering="crispEdges"/>
<rect x="327.3" y="339.1" width="35.6" height="9.4" fill="#f4ad1c" shape-rendering="crispEdges"/>
<rect x="362.3" y="339.1" width="35.6" height="9.4" fill="#f98219" shape-rendering="crispEdges"/>
<rect x="397.3" y="339.1" width="35.6" height="9.4" fill="#fd3c3c" shape-rendering="crispEdges"/>
<rect x="432.3" y="339.1" width="35.6" height="9.4" fill="#f80080" shape-rendering="crispEdges"/>
<text x="82.3" y="358.6" font-size="10.2" text-anchor="middle" fill="#1a1a1a" stroke="#1a1a1a" stroke-width="0.45">32</text>
<text x="117.3" y="358.6" font-size="10.2" text-anchor="middle" fill="#1a1a1a" stroke="#1a1a1a" stroke-width="0.45">32.5</text>
<text x="152.3" y="358.6" font-size="10.2" text-anchor="middle" fill="#1a1a1a" stroke="#1a1a1a" stroke-width="0.45">33</text>
<text x="187.3" y="358.6" font-size="10.2" text-anchor="middle" fill="#1a1a1a" stroke="#1a1a1a" stroke-width="0.45">33.5</text>
<text x="222.3" y="358.6" font-size="10.2" text-anchor="middle" fill="#1a1a1a" stroke="#1a1a1a" stroke-width="0.45">34</text>
<text x="257.3" y="358.6" font-size="10.2" text-anchor="middle" fill="#1a1a1a" stroke="#1a1a1a" stroke-width="0.45">34.5</text>
<text x="292.3" y="358.6" font-size="10.2" text-anchor="middle" fill="#1a1a1a" stroke="#1a1a1a" stroke-width="0.45">35</text>
<text x="327.3" y="358.6" font-size="10.2" text-anchor="middle" fill="#1a1a1a" stroke="#1a1a1a" stroke-width="0.45">35.5</text>
<text x="362.3" y="358.6" font-size="10.2" text-anchor="middle" fill="#1a1a1a" stroke="#1a1a1a" stroke-width="0.45">36</text>
<text x="397.3" y="358.6" font-size="10.2" text-anchor="middle" fill="#1a1a1a" stroke="#1a1a1a" stroke-width="0.45">36.5</text>
<text x="432.3" y="358.6" font-size="10.2" text-anchor="middle" fill="#1a1a1a" stroke="#1a1a1a" stroke-width="0.45">37</text>
<rect x="603.1" y="348.9" width="36.4" height="9.8" fill="#b000c8" shape-rendering="crispEdges"/>
<rect x="638.9" y="348.9" width="36.4" height="9.8" fill="#8c00dc" shape-rendering="crispEdges"/>
<rect x="674.7" y="348.9" width="36.4" height="9.8" fill="#1432ff" shape-rendering="crispEdges"/>
<rect x="710.5" y="348.9" width="36.4" height="9.8" fill="#00a0ff" shape-rendering="crispEdges"/>
<rect x="746.3" y="348.9" width="36.4" height="9.8" fill="#00c8c8" shape-rendering="crispEdges"/>
<rect x="782.1" y="348.9" width="36.4" height="9.8" fill="#00d28c" shape-rendering="crispEdges"/>
<rect x="817.9" y="348.9" width="36.4" height="9.8" fill="#7adc00" shape-rendering="crispEdges"/>
<rect x="853.7" y="348.9" width="36.4" height="9.8" fill="#e6dc00" shape-rendering="crispEdges"/>
<rect x="889.5" y="348.9" width="36.4" height="9.8" fill="#f4ad1c" shape-rendering="crispEdges"/>
<rect x="925.3" y="348.9" width="36.4" height="9.8" fill="#f98219" shape-rendering="crispEdges"/>
<rect x="961.1" y="348.9" width="36.4" height="9.8" fill="#fd3c3c" shape-rendering="crispEdges"/>
<rect x="996.9" y="348.9" width="36.4" height="9.8" fill="#f80080" shape-rendering="crispEdges"/>
<text x="638.9" y="368.9" font-size="10.6" text-anchor="middle" fill="#1a1a1a" stroke="#1a1a1a" stroke-width="0.45">32</text>
<text x="674.7" y="368.9" font-size="10.6" text-anchor="middle" fill="#1a1a1a" stroke="#1a1a1a" stroke-width="0.45">32.5</text>
<text x="710.5" y="368.9" font-size="10.6" text-anchor="middle" fill="#1a1a1a" stroke="#1a1a1a" stroke-width="0.45">33</text>
<text x="746.3" y="368.9" font-size="10.6" text-anchor="middle" fill="#1a1a1a" stroke="#1a1a1a" stroke-width="0.45">33.5</text>
<text x="782.1" y="368.9" font-size="10.6" text-anchor="middle" fill="#1a1a1a" stroke="#1a1a1a" stroke-width="0.45">34</text>
<text x="817.9" y="368.9" font-size="10.6" text-anchor="middle" fill="#1a1a1a" stroke="#1a1a1a" stroke-width="0.45">34.5</text>
<text x="853.7" y="368.9" font-size="10.6" text-anchor="middle" fill="#1a1a1a" stroke="#1a1a1a" stroke-width="0.45">35</text>
<text x="889.5" y="368.9" font-size="10.6" text-anchor="middle" fill="#1a1a1a" stroke="#1a1a1a" stroke-width="0.45">35.5</text>
<text x="925.3" y="368.9" font-size="10.6" text-anchor="middle" fill="#1a1a1a" stroke="#1a1a1a" stroke-width="0.45">36</text>
<text x="961.1" y="368.9" font-size="10.6" text-anchor="middle" fill="#1a1a1a" stroke="#1a1a1a" stroke-width="0.45">36.5</text>
<text x="996.9" y="368.9" font-size="10.6" text-anchor="middle" fill="#1a1a1a" stroke="#1a1a1a" stroke-width="0.45">37</text>
<rect x="47.9" y="799.9" width="33.1" height="9.2" fill="#b000c8" shape-rendering="crispEdges"/>
<rect x="80.4" y="799.9" width="33.1" height="9.2" fill="#8c00dc" shape-rendering="crispEdges"/>
<rect x="112.9" y="799.9" width="33.1" height="9.2" fill="#1432ff" shape-rendering="crispEdges"/>
<rect x="145.3" y="799.9" width="33.1" height="9.2" fill="#00a0ff" shape-rendering="crispEdges"/>
<rect x="177.8" y="799.9" width="33.1" height="9.2" fill="#00c8c8" shape-rendering="crispEdges"/>
<rect x="210.3" y="799.9" width="33.1" height="9.2" fill="#00d28c" shape-rendering="crispEdges"/>
<rect x="242.8" y="799.9" width="33.1" height="9.2" fill="#00dc00" shape-rendering="crispEdges"/>
<rect x="275.3" y="799.9" width="33.1" height="9.2" fill="#7adc00" shape-rendering="crispEdges"/>
<rect x="307.7" y="799.9" width="33.1" height="9.2" fill="#e6dc00" shape-rendering="crispEdges"/>
<rect x="340.2" y="799.9" width="33.1" height="9.2" fill="#f4ad1c" shape-rendering="crispEdges"/>
<rect x="372.7" y="799.9" width="33.1" height="9.2" fill="#f98219" shape-rendering="crispEdges"/>
<rect x="405.2" y="799.9" width="33.1" height="9.2" fill="#fd3c3c" shape-rendering="crispEdges"/>
<rect x="437.7" y="799.9" width="33.1" height="9.2" fill="#f80080" shape-rendering="crispEdges"/>
<text x="80.4" y="818.9" font-size="9.8" text-anchor="middle" fill="#1a1a1a" stroke="#1a1a1a" stroke-width="0.45">17</text>
<text x="112.9" y="818.9" font-size="9.8" text-anchor="middle" fill="#1a1a1a" stroke="#1a1a1a" stroke-width="0.45">17.5</text>
<text x="145.3" y="818.9" font-size="9.8" text-anchor="middle" fill="#1a1a1a" stroke="#1a1a1a" stroke-width="0.45">18</text>
<text x="177.8" y="818.9" font-size="9.8" text-anchor="middle" fill="#1a1a1a" stroke="#1a1a1a" stroke-width="0.45">18.5</text>
<text x="210.3" y="818.9" font-size="9.8" text-anchor="middle" fill="#1a1a1a" stroke="#1a1a1a" stroke-width="0.45">19</text>
<text x="242.8" y="818.9" font-size="9.8" text-anchor="middle" fill="#1a1a1a" stroke="#1a1a1a" stroke-width="0.45">19.5</text>
<text x="275.3" y="818.9" font-size="9.8" text-anchor="middle" fill="#1a1a1a" stroke="#1a1a1a" stroke-width="0.45">20</text>
<text x="307.7" y="818.9" font-size="9.8" text-anchor="middle" fill="#1a1a1a" stroke="#1a1a1a" stroke-width="0.45">20.5</text>
<text x="340.2" y="818.9" font-size="9.8" text-anchor="middle" fill="#1a1a1a" stroke="#1a1a1a" stroke-width="0.45">21</text>
<text x="372.7" y="818.9" font-size="9.8" text-anchor="middle" fill="#1a1a1a" stroke="#1a1a1a" stroke-width="0.45">21.5</text>
<text x="405.2" y="818.9" font-size="9.8" text-anchor="middle" fill="#1a1a1a" stroke="#1a1a1a" stroke-width="0.45">22</text>
<text x="437.7" y="818.9" font-size="9.8" text-anchor="middle" fill="#1a1a1a" stroke="#1a1a1a" stroke-width="0.45">22.5</text>
<rect x="603.1" y="805.5" width="36.4" height="10.2" fill="#b000c8" shape-rendering="crispEdges"/>
<rect x="638.9" y="805.5" width="36.4" height="10.2" fill="#8c00dc" shape-rendering="crispEdges"/>
<rect x="674.7" y="805.5" width="36.4" height="10.2" fill="#1432ff" shape-rendering="crispEdges"/>
<rect x="710.5" y="805.5" width="36.4" height="10.2" fill="#00a0ff" shape-rendering="crispEdges"/>
<rect x="746.3" y="805.5" width="36.4" height="10.2" fill="#00c8c8" shape-rendering="crispEdges"/>
<rect x="782.1" y="805.5" width="36.4" height="10.2" fill="#00d28c" shape-rendering="crispEdges"/>
<rect x="817.9" y="805.5" width="36.4" height="10.2" fill="#7adc00" shape-rendering="crispEdges"/>
<rect x="853.7" y="805.5" width="36.4" height="10.2" fill="#e6dc00" shape-rendering="crispEdges"/>
<rect x="889.5" y="805.5" width="36.4" height="10.2" fill="#f4ad1c" shape-rendering="crispEdges"/>
<rect x="925.3" y="805.5" width="36.4" height="10.2" fill="#f98219" shape-rendering="crispEdges"/>
<rect x="961.1" y="805.5" width="36.4" height="10.2" fill="#fd3c3c" shape-rendering="crispEdges"/>
<rect x="996.9" y="805.5" width="36.4" height="10.2" fill="#f80080" shape-rendering="crispEdges"/>
<text x="638.9" y="825.6" font-size="10.4" text-anchor="middle" fill="#1a1a1a" stroke="#1a1a1a" stroke-width="0.45">17.5</text>
<text x="674.7" y="825.6" font-size="10.4" text-anchor="middle" fill="#1a1a1a" stroke="#1a1a1a" stroke-width="0.45">18</text>
<text x="710.5" y="825.6" font-size="10.4" text-anchor="middle" fill="#1a1a1a" stroke="#1a1a1a" stroke-width="0.45">18.5</text>
<text x="746.3" y="825.6" font-size="10.4" text-anchor="middle" fill="#1a1a1a" stroke="#1a1a1a" stroke-width="0.45">19</text>
<text x="782.1" y="825.6" font-size="10.4" text-anchor="middle" fill="#1a1a1a" stroke="#1a1a1a" stroke-width="0.45">19.5</text>
<text x="817.9" y="825.6" font-size="10.4" text-anchor="middle" fill="#1a1a1a" stroke="#1a1a1a" stroke-width="0.45">20</text>
<text x="853.7" y="825.6" font-size="10.4" text-anchor="middle" fill="#1a1a1a" stroke="#1a1a1a" stroke-width="0.45">20.5</text>
<text x="889.5" y="825.6" font-size="10.4" text-anchor="middle" fill="#1a1a1a" stroke="#1a1a1a" stroke-width="0.45">21</text>
<text x="925.3" y="825.6" font-size="10.4" text-anchor="middle" fill="#1a1a1a" stroke="#1a1a1a" stroke-width="0.45">21.5</text>
<text x="961.1" y="825.6" font-size="10.4" text-anchor="middle" fill="#1a1a1a" stroke="#1a1a1a" stroke-width="0.45">22</text>
<text x="996.9" y="825.6" font-size="10.4" text-anchor="middle" fill="#1a1a1a" stroke="#1a1a1a" stroke-width="0.45">22.5</text>
<text x="254" y="408.5" font-size="26.5" text-anchor="middle" fill="#111" style="font-family:'Liberation Serif',serif">(a)</text>
<text x="815.2" y="408.8" font-size="26.5" text-anchor="middle" fill="#111" style="font-family:'Liberation Serif',serif">(b)</text>
<text x="273" y="865.3" font-size="26.5" text-anchor="middle" fill="#111" style="font-family:'Liberation Serif',serif">(c)</text>
<text x="822" y="865.3" font-size="26.5" text-anchor="middle" fill="#111" style="font-family:'Liberation Serif',serif">(d)</text>
</svg></body></html>
